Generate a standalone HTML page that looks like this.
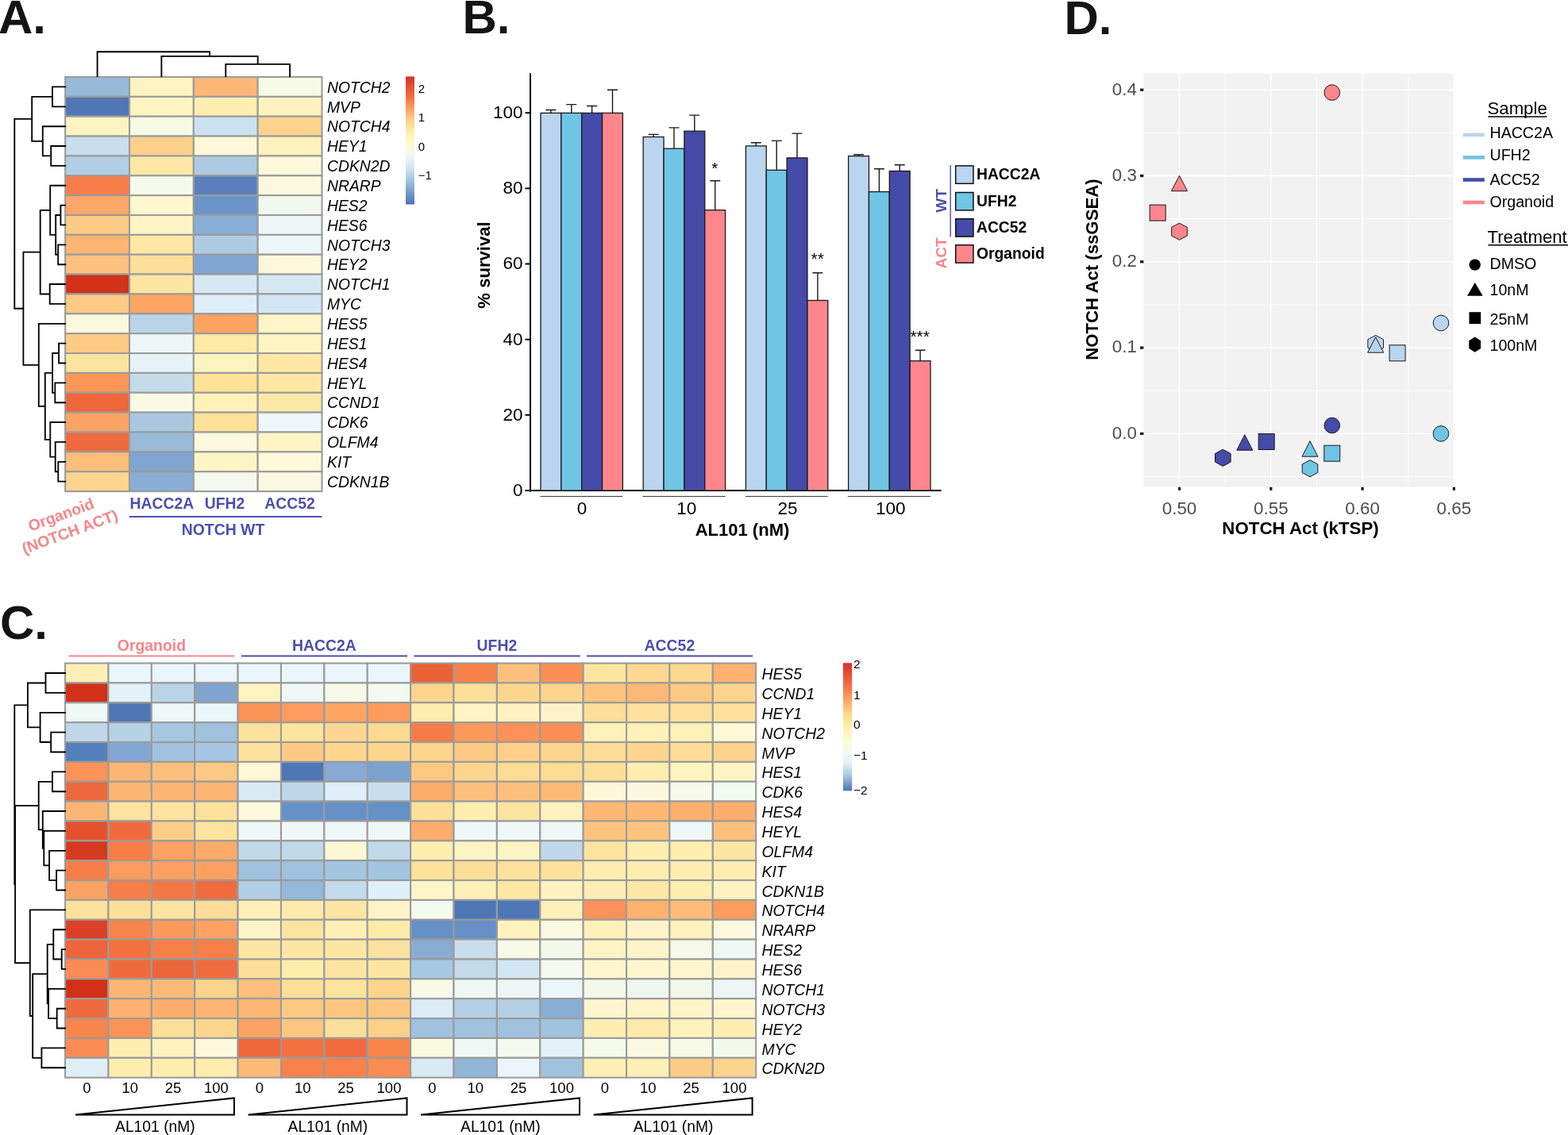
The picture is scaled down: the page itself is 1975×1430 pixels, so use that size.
<!DOCTYPE html>
<html><head><meta charset="utf-8"><title>Figure</title>
<style>
html,body{margin:0;padding:0;background:#fff;overflow:hidden;width:1975px;height:1430px;}
svg{display:block;}
svg text{font-family:'Liberation Sans', Arial, sans-serif;}
</style></head><body>
<svg width="1975" height="1430" viewBox="0 0 1975 1430">
<rect width="1975" height="1430" fill="#fff"/>
<text x="-2" y="42" font-size="60" font-weight="bold" fill="#141414">A.</text>
<text x="582.5" y="42" font-size="60" font-weight="bold" fill="#141414">B.</text>
<text x="0" y="805" font-size="60" font-weight="bold" fill="#141414">C.</text>
<text x="1340.5" y="42.5" font-size="60" font-weight="bold" fill="#141414">D.</text>
<g>
<rect x="82.20" y="97.00" width="80.83" height="24.86" fill="#97BAD9" stroke="#9b9b9b" stroke-width="2.1"/>
<rect x="163.03" y="97.00" width="80.83" height="24.86" fill="#FEF4C2" stroke="#9b9b9b" stroke-width="2.1"/>
<rect x="243.86" y="97.00" width="80.83" height="24.86" fill="#FDB878" stroke="#9b9b9b" stroke-width="2.1"/>
<rect x="324.69" y="97.00" width="80.83" height="24.86" fill="#F7FBE6" stroke="#9b9b9b" stroke-width="2.1"/>
<rect x="82.20" y="121.86" width="80.83" height="24.86" fill="#4F77B6" stroke="#9b9b9b" stroke-width="2.1"/>
<rect x="163.03" y="121.86" width="80.83" height="24.86" fill="#FEF4C2" stroke="#9b9b9b" stroke-width="2.1"/>
<rect x="243.86" y="121.86" width="80.83" height="24.86" fill="#FEEEB0" stroke="#9b9b9b" stroke-width="2.1"/>
<rect x="324.69" y="121.86" width="80.83" height="24.86" fill="#FEF3BE" stroke="#9b9b9b" stroke-width="2.1"/>
<rect x="82.20" y="146.72" width="80.83" height="24.86" fill="#FEF4C2" stroke="#9b9b9b" stroke-width="2.1"/>
<rect x="163.03" y="146.72" width="80.83" height="24.86" fill="#F7FAE4" stroke="#9b9b9b" stroke-width="2.1"/>
<rect x="243.86" y="146.72" width="80.83" height="24.86" fill="#CCE1F0" stroke="#9b9b9b" stroke-width="2.1"/>
<rect x="324.69" y="146.72" width="80.83" height="24.86" fill="#FDD38E" stroke="#9b9b9b" stroke-width="2.1"/>
<rect x="82.20" y="171.58" width="80.83" height="24.86" fill="#C9DFEE" stroke="#9b9b9b" stroke-width="2.1"/>
<rect x="163.03" y="171.58" width="80.83" height="24.86" fill="#FDD08C" stroke="#9b9b9b" stroke-width="2.1"/>
<rect x="243.86" y="171.58" width="80.83" height="24.86" fill="#FEF8D8" stroke="#9b9b9b" stroke-width="2.1"/>
<rect x="324.69" y="171.58" width="80.83" height="24.86" fill="#FEF2BC" stroke="#9b9b9b" stroke-width="2.1"/>
<rect x="82.20" y="196.44" width="80.83" height="24.86" fill="#B0CFE5" stroke="#9b9b9b" stroke-width="2.1"/>
<rect x="163.03" y="196.44" width="80.83" height="24.86" fill="#FEE8A6" stroke="#9b9b9b" stroke-width="2.1"/>
<rect x="243.86" y="196.44" width="80.83" height="24.86" fill="#ADCBE3" stroke="#9b9b9b" stroke-width="2.1"/>
<rect x="324.69" y="196.44" width="80.83" height="24.86" fill="#FEF9DA" stroke="#9b9b9b" stroke-width="2.1"/>
<rect x="82.20" y="221.30" width="80.83" height="24.86" fill="#F77D48" stroke="#9b9b9b" stroke-width="2.1"/>
<rect x="163.03" y="221.30" width="80.83" height="24.86" fill="#F6FAEC" stroke="#9b9b9b" stroke-width="2.1"/>
<rect x="243.86" y="221.30" width="80.83" height="24.86" fill="#5A80BC" stroke="#9b9b9b" stroke-width="2.1"/>
<rect x="324.69" y="221.30" width="80.83" height="24.86" fill="#FAF9E0" stroke="#9b9b9b" stroke-width="2.1"/>
<rect x="82.20" y="246.16" width="80.83" height="24.86" fill="#FDA769" stroke="#9b9b9b" stroke-width="2.1"/>
<rect x="163.03" y="246.16" width="80.83" height="24.86" fill="#FEF7CF" stroke="#9b9b9b" stroke-width="2.1"/>
<rect x="243.86" y="246.16" width="80.83" height="24.86" fill="#6B95C8" stroke="#9b9b9b" stroke-width="2.1"/>
<rect x="324.69" y="246.16" width="80.83" height="24.86" fill="#F1F9EF" stroke="#9b9b9b" stroke-width="2.1"/>
<rect x="82.20" y="271.02" width="80.83" height="24.86" fill="#FDCB86" stroke="#9b9b9b" stroke-width="2.1"/>
<rect x="163.03" y="271.02" width="80.83" height="24.86" fill="#FEF4C4" stroke="#9b9b9b" stroke-width="2.1"/>
<rect x="243.86" y="271.02" width="80.83" height="24.86" fill="#88AFD6" stroke="#9b9b9b" stroke-width="2.1"/>
<rect x="324.69" y="271.02" width="80.83" height="24.86" fill="#EEF7F6" stroke="#9b9b9b" stroke-width="2.1"/>
<rect x="82.20" y="295.88" width="80.83" height="24.86" fill="#FDB574" stroke="#9b9b9b" stroke-width="2.1"/>
<rect x="163.03" y="295.88" width="80.83" height="24.86" fill="#FEE8A4" stroke="#9b9b9b" stroke-width="2.1"/>
<rect x="243.86" y="295.88" width="80.83" height="24.86" fill="#ADCCE3" stroke="#9b9b9b" stroke-width="2.1"/>
<rect x="324.69" y="295.88" width="80.83" height="24.86" fill="#EDF6F8" stroke="#9b9b9b" stroke-width="2.1"/>
<rect x="82.20" y="320.74" width="80.83" height="24.86" fill="#FDC281" stroke="#9b9b9b" stroke-width="2.1"/>
<rect x="163.03" y="320.74" width="80.83" height="24.86" fill="#FCDF98" stroke="#9b9b9b" stroke-width="2.1"/>
<rect x="243.86" y="320.74" width="80.83" height="24.86" fill="#80A5D2" stroke="#9b9b9b" stroke-width="2.1"/>
<rect x="324.69" y="320.74" width="80.83" height="24.86" fill="#FDF8DC" stroke="#9b9b9b" stroke-width="2.1"/>
<rect x="82.20" y="345.60" width="80.83" height="24.86" fill="#D23218" stroke="#9b9b9b" stroke-width="2.1"/>
<rect x="163.03" y="345.60" width="80.83" height="24.86" fill="#FCE6A2" stroke="#9b9b9b" stroke-width="2.1"/>
<rect x="243.86" y="345.60" width="80.83" height="24.86" fill="#D7E8F4" stroke="#9b9b9b" stroke-width="2.1"/>
<rect x="324.69" y="345.60" width="80.83" height="24.86" fill="#D7E8F4" stroke="#9b9b9b" stroke-width="2.1"/>
<rect x="82.20" y="370.46" width="80.83" height="24.86" fill="#FDCB85" stroke="#9b9b9b" stroke-width="2.1"/>
<rect x="163.03" y="370.46" width="80.83" height="24.86" fill="#FDA563" stroke="#9b9b9b" stroke-width="2.1"/>
<rect x="243.86" y="370.46" width="80.83" height="24.86" fill="#DFEFF8" stroke="#9b9b9b" stroke-width="2.1"/>
<rect x="324.69" y="370.46" width="80.83" height="24.86" fill="#D3E6F3" stroke="#9b9b9b" stroke-width="2.1"/>
<rect x="82.20" y="395.32" width="80.83" height="24.86" fill="#FCFADD" stroke="#9b9b9b" stroke-width="2.1"/>
<rect x="163.03" y="395.32" width="80.83" height="24.86" fill="#B9D4E8" stroke="#9b9b9b" stroke-width="2.1"/>
<rect x="243.86" y="395.32" width="80.83" height="24.86" fill="#FDA362" stroke="#9b9b9b" stroke-width="2.1"/>
<rect x="324.69" y="395.32" width="80.83" height="24.86" fill="#FEF6C8" stroke="#9b9b9b" stroke-width="2.1"/>
<rect x="82.20" y="420.18" width="80.83" height="24.86" fill="#FDCB85" stroke="#9b9b9b" stroke-width="2.1"/>
<rect x="163.03" y="420.18" width="80.83" height="24.86" fill="#EDF7F8" stroke="#9b9b9b" stroke-width="2.1"/>
<rect x="243.86" y="420.18" width="80.83" height="24.86" fill="#FEE9A7" stroke="#9b9b9b" stroke-width="2.1"/>
<rect x="324.69" y="420.18" width="80.83" height="24.86" fill="#FEF4C1" stroke="#9b9b9b" stroke-width="2.1"/>
<rect x="82.20" y="445.04" width="80.83" height="24.86" fill="#FDE49E" stroke="#9b9b9b" stroke-width="2.1"/>
<rect x="163.03" y="445.04" width="80.83" height="24.86" fill="#E5F3F9" stroke="#9b9b9b" stroke-width="2.1"/>
<rect x="243.86" y="445.04" width="80.83" height="24.86" fill="#FEF4C0" stroke="#9b9b9b" stroke-width="2.1"/>
<rect x="324.69" y="445.04" width="80.83" height="24.86" fill="#FDE7A2" stroke="#9b9b9b" stroke-width="2.1"/>
<rect x="82.20" y="469.90" width="80.83" height="24.86" fill="#FD9758" stroke="#9b9b9b" stroke-width="2.1"/>
<rect x="163.03" y="469.90" width="80.83" height="24.86" fill="#C4DCEA" stroke="#9b9b9b" stroke-width="2.1"/>
<rect x="243.86" y="469.90" width="80.83" height="24.86" fill="#FDE297" stroke="#9b9b9b" stroke-width="2.1"/>
<rect x="324.69" y="469.90" width="80.83" height="24.86" fill="#FDE7A3" stroke="#9b9b9b" stroke-width="2.1"/>
<rect x="82.20" y="494.76" width="80.83" height="24.86" fill="#EE663A" stroke="#9b9b9b" stroke-width="2.1"/>
<rect x="163.03" y="494.76" width="80.83" height="24.86" fill="#F9FAE6" stroke="#9b9b9b" stroke-width="2.1"/>
<rect x="243.86" y="494.76" width="80.83" height="24.86" fill="#FEF2B6" stroke="#9b9b9b" stroke-width="2.1"/>
<rect x="324.69" y="494.76" width="80.83" height="24.86" fill="#FCE9A7" stroke="#9b9b9b" stroke-width="2.1"/>
<rect x="82.20" y="519.62" width="80.83" height="24.86" fill="#FDA464" stroke="#9b9b9b" stroke-width="2.1"/>
<rect x="163.03" y="519.62" width="80.83" height="24.86" fill="#A9C8E0" stroke="#9b9b9b" stroke-width="2.1"/>
<rect x="243.86" y="519.62" width="80.83" height="24.86" fill="#FDE297" stroke="#9b9b9b" stroke-width="2.1"/>
<rect x="324.69" y="519.62" width="80.83" height="24.86" fill="#EEF7F9" stroke="#9b9b9b" stroke-width="2.1"/>
<rect x="82.20" y="544.48" width="80.83" height="24.86" fill="#F06A3F" stroke="#9b9b9b" stroke-width="2.1"/>
<rect x="163.03" y="544.48" width="80.83" height="24.86" fill="#99BBDA" stroke="#9b9b9b" stroke-width="2.1"/>
<rect x="243.86" y="544.48" width="80.83" height="24.86" fill="#FCF9DF" stroke="#9b9b9b" stroke-width="2.1"/>
<rect x="324.69" y="544.48" width="80.83" height="24.86" fill="#FEF5C6" stroke="#9b9b9b" stroke-width="2.1"/>
<rect x="82.20" y="569.34" width="80.83" height="24.86" fill="#FDBE7A" stroke="#9b9b9b" stroke-width="2.1"/>
<rect x="163.03" y="569.34" width="80.83" height="24.86" fill="#80A5D0" stroke="#9b9b9b" stroke-width="2.1"/>
<rect x="243.86" y="569.34" width="80.83" height="24.86" fill="#FEF5C6" stroke="#9b9b9b" stroke-width="2.1"/>
<rect x="324.69" y="569.34" width="80.83" height="24.86" fill="#FDF9DA" stroke="#9b9b9b" stroke-width="2.1"/>
<rect x="82.20" y="594.20" width="80.83" height="24.86" fill="#FDD58E" stroke="#9b9b9b" stroke-width="2.1"/>
<rect x="163.03" y="594.20" width="80.83" height="24.86" fill="#88AED4" stroke="#9b9b9b" stroke-width="2.1"/>
<rect x="243.86" y="594.20" width="80.83" height="24.86" fill="#F3F9EC" stroke="#9b9b9b" stroke-width="2.1"/>
<rect x="324.69" y="594.20" width="80.83" height="24.86" fill="#FAF8E0" stroke="#9b9b9b" stroke-width="2.1"/>
</g>
<text x="412" y="116.6" font-size="19.35" font-style="italic" fill="#000">NOTCH2</text>
<text x="412" y="141.5" font-size="19.35" font-style="italic" fill="#000">MVP</text>
<text x="412" y="166.3" font-size="19.35" font-style="italic" fill="#000">NOTCH4</text>
<text x="412" y="191.2" font-size="19.35" font-style="italic" fill="#000">HEY1</text>
<text x="412" y="216.1" font-size="19.35" font-style="italic" fill="#000">CDKN2D</text>
<text x="412" y="240.9" font-size="19.35" font-style="italic" fill="#000">NRARP</text>
<text x="412" y="265.8" font-size="19.35" font-style="italic" fill="#000">HES2</text>
<text x="412" y="290.6" font-size="19.35" font-style="italic" fill="#000">HES6</text>
<text x="412" y="315.5" font-size="19.35" font-style="italic" fill="#000">NOTCH3</text>
<text x="412" y="340.4" font-size="19.35" font-style="italic" fill="#000">HEY2</text>
<text x="412" y="365.2" font-size="19.35" font-style="italic" fill="#000">NOTCH1</text>
<text x="412" y="390.1" font-size="19.35" font-style="italic" fill="#000">MYC</text>
<text x="412" y="414.9" font-size="19.35" font-style="italic" fill="#000">HES5</text>
<text x="412" y="439.8" font-size="19.35" font-style="italic" fill="#000">HES1</text>
<text x="412" y="464.7" font-size="19.35" font-style="italic" fill="#000">HES4</text>
<text x="412" y="489.5" font-size="19.35" font-style="italic" fill="#000">HEYL</text>
<text x="412" y="514.4" font-size="19.35" font-style="italic" fill="#000">CCND1</text>
<text x="412" y="539.2" font-size="19.35" font-style="italic" fill="#000">CDK6</text>
<text x="412" y="564.1" font-size="19.35" font-style="italic" fill="#000">OLFM4</text>
<text x="412" y="589.0" font-size="19.35" font-style="italic" fill="#000">KIT</text>
<text x="412" y="613.8" font-size="19.35" font-style="italic" fill="#000">CDKN1B</text>
<path d="M66.0 109.4L82.2 109.4 M66.0 134.3L82.2 134.3 M66.0 109.4L66.0 134.3 M64.2 184.0L82.2 184.0 M64.2 208.9L82.2 208.9 M64.2 184.0L64.2 208.9 M53.8 159.2L82.2 159.2 M53.8 196.4L64.2 196.4 M53.8 159.2L53.8 196.4 M40.2 121.9L66.0 121.9 M40.2 177.8L53.8 177.8 M40.2 121.9L40.2 177.8 M76.4 258.6L82.2 258.6 M76.4 283.4L82.2 283.4 M76.4 258.6L76.4 283.4 M73.2 308.3L82.2 308.3 M73.2 333.2L82.2 333.2 M73.2 308.3L73.2 333.2 M70.2 271.0L76.4 271.0 M70.2 320.7L73.2 320.7 M70.2 271.0L70.2 320.7 M63.2 233.7L82.2 233.7 M63.2 295.9L70.2 295.9 M63.2 233.7L63.2 295.9 M62.7 358.0L82.2 358.0 M62.7 382.9L82.2 382.9 M62.7 358.0L62.7 382.9 M50.7 264.8L63.2 264.8 M50.7 370.5L62.7 370.5 M50.7 264.8L50.7 370.5 M74.1 432.6L82.2 432.6 M74.1 457.5L82.2 457.5 M74.1 432.6L74.1 457.5 M69.3 482.3L82.2 482.3 M69.3 507.2L82.2 507.2 M69.3 482.3L69.3 507.2 M66.1 445.0L74.1 445.0 M66.1 494.8L69.3 494.8 M66.1 445.0L66.1 494.8 M73.3 581.8L82.2 581.8 M73.3 606.6L82.2 606.6 M73.3 581.8L73.3 606.6 M69.7 556.9L82.2 556.9 M69.7 594.2L73.3 594.2 M69.7 556.9L69.7 594.2 M63.3 532.0L82.2 532.0 M63.3 575.6L69.7 575.6 M63.3 532.0L63.3 575.6 M56.8 469.9L66.1 469.9 M56.8 553.8L63.3 553.8 M56.8 469.9L56.8 553.8 M48.8 407.8L82.2 407.8 M48.8 511.9L56.8 511.9 M48.8 407.8L48.8 511.9 M29.4 317.6L50.7 317.6 M29.4 459.8L48.8 459.8 M29.4 317.6L29.4 459.8 M18.3 149.8L40.2 149.8 M18.3 388.7L29.4 388.7 M18.3 149.8L18.3 388.7" stroke="#000" stroke-width="1.85" fill="none" stroke-linecap="square"/>
<path d="M284.3 96.0L284.3 80.8 M365.1 96.0L365.1 80.8 M284.3 80.8L365.1 80.8 M203.4 96.0L203.4 70.9 M324.7 80.8L324.7 70.9 M203.4 70.9L324.7 70.9 M122.6 96.0L122.6 65.2 M264.1 70.9L264.1 65.2 M122.6 65.2L264.1 65.2" stroke="#000" stroke-width="1.85" fill="none" stroke-linecap="square"/>
<defs><linearGradient id="g96" x1="0" y1="0" x2="0" y2="1"><stop offset="0" stop-color="#D73027"/><stop offset="0.15" stop-color="#F06A3D"/><stop offset="0.25" stop-color="#FCA062"/><stop offset="0.35" stop-color="#FDD58A"/><stop offset="0.45" stop-color="#FEF2B2"/><stop offset="0.55" stop-color="#FBFBDC"/><stop offset="0.62" stop-color="#EEF7F4"/><stop offset="0.7" stop-color="#D8EAF4"/><stop offset="0.8" stop-color="#A8C8E2"/><stop offset="1" stop-color="#4A75B5"/></linearGradient></defs>
<rect x="511.0" y="96.4" width="11.0" height="161.1" fill="url(#g96)"/>
<text x="526.7" y="116.7" font-size="15" fill="#000">2</text>
<text x="526.7" y="153.4" font-size="15" fill="#000">1</text>
<text x="526.7" y="190.0" font-size="15" fill="#000">0</text>
<text x="526.7" y="226.1" font-size="15" fill="#000">−1</text>
<text x="203.8" y="640.5" font-size="19.4" font-weight="bold" fill="#4b4fae" text-anchor="middle">HACC2A</text>
<text x="283" y="640.5" font-size="19.4" font-weight="bold" fill="#4b4fae" text-anchor="middle">UFH2</text>
<text x="365" y="640.5" font-size="19.4" font-weight="bold" fill="#4b4fae" text-anchor="middle">ACC52</text>
<line x1="163" y1="651" x2="405.4" y2="651" stroke="#4b4fae" stroke-width="2"/>
<text x="281" y="674" font-size="19.4" font-weight="bold" fill="#4b4fae" text-anchor="middle">NOTCH WT</text>
<g transform="translate(76.8,648.2) rotate(-20.2)"><text x="0" y="7" font-size="19.5" font-weight="bold" fill="#f7858a" text-anchor="middle">Organoid</text><text x="3" y="31" font-size="19.5" font-weight="bold" fill="#f7858a" text-anchor="middle">(NOTCH ACT)</text></g>
<line x1="668" y1="92.2" x2="668" y2="619.5" stroke="#000" stroke-width="2"/>
<line x1="667" y1="618" x2="1185.6" y2="618" stroke="#000" stroke-width="2.2"/>
<line x1="661.5" y1="618.0" x2="668" y2="618.0" stroke="#000" stroke-width="2"/>
<text x="658.6" y="624.9" font-size="22.5" fill="#000" text-anchor="end">0</text>
<line x1="661.5" y1="522.8" x2="668" y2="522.8" stroke="#000" stroke-width="2"/>
<text x="658.6" y="529.7" font-size="22.5" fill="#000" text-anchor="end">20</text>
<line x1="661.5" y1="427.7" x2="668" y2="427.7" stroke="#000" stroke-width="2"/>
<text x="658.6" y="434.6" font-size="22.5" fill="#000" text-anchor="end">40</text>
<line x1="661.5" y1="332.5" x2="668" y2="332.5" stroke="#000" stroke-width="2"/>
<text x="658.6" y="339.4" font-size="22.5" fill="#000" text-anchor="end">60</text>
<line x1="661.5" y1="237.4" x2="668" y2="237.4" stroke="#000" stroke-width="2"/>
<text x="658.6" y="244.3" font-size="22.5" fill="#000" text-anchor="end">80</text>
<line x1="661.5" y1="142.2" x2="668" y2="142.2" stroke="#000" stroke-width="2"/>
<text x="658.6" y="149.1" font-size="22.5" fill="#000" text-anchor="end">100</text>
<rect x="681.00" y="142.4" width="25.85" height="475.6" fill="#bad5ef" stroke="#1a1a1a" stroke-width="1.3"/>
<path d="M693.9 142.4V138.5M687.4 138.5H700.4" stroke="#1a1a1a" stroke-width="1.4" fill="none"/>
<rect x="706.85" y="142.4" width="25.85" height="475.6" fill="#6fc5e3" stroke="#1a1a1a" stroke-width="1.3"/>
<path d="M719.8 142.4V131.6M713.3 131.6H726.3" stroke="#1a1a1a" stroke-width="1.4" fill="none"/>
<rect x="732.70" y="142.4" width="25.85" height="475.6" fill="#444ba8" stroke="#1a1a1a" stroke-width="1.3"/>
<path d="M745.6 142.4V133.5M739.1 133.5H752.1" stroke="#1a1a1a" stroke-width="1.4" fill="none"/>
<rect x="758.55" y="142.4" width="25.85" height="475.6" fill="#fe868c" stroke="#1a1a1a" stroke-width="1.3"/>
<path d="M771.5 142.4V113.2M765.0 113.2H778.0" stroke="#1a1a1a" stroke-width="1.4" fill="none"/>
<line x1="680.3" y1="625.4" x2="784.4" y2="625.4" stroke="#333" stroke-width="1"/>
<rect x="810.20" y="172.5" width="25.85" height="445.5" fill="#bad5ef" stroke="#1a1a1a" stroke-width="1.3"/>
<path d="M823.1 172.5V169.4M816.6 169.4H829.6" stroke="#1a1a1a" stroke-width="1.4" fill="none"/>
<rect x="836.05" y="187.2" width="25.85" height="430.8" fill="#6fc5e3" stroke="#1a1a1a" stroke-width="1.3"/>
<path d="M849.0 187.2V160.9M842.5 160.9H855.5" stroke="#1a1a1a" stroke-width="1.4" fill="none"/>
<rect x="861.90" y="165.2" width="25.85" height="452.8" fill="#444ba8" stroke="#1a1a1a" stroke-width="1.3"/>
<path d="M874.8 165.2V145.1M868.3 145.1H881.3" stroke="#1a1a1a" stroke-width="1.4" fill="none"/>
<rect x="887.75" y="264.7" width="25.85" height="353.3" fill="#fe868c" stroke="#1a1a1a" stroke-width="1.3"/>
<path d="M900.7 264.7V227.7M894.2 227.7H907.2" stroke="#1a1a1a" stroke-width="1.4" fill="none"/>
<line x1="809.5" y1="625.4" x2="913.6" y2="625.4" stroke="#333" stroke-width="1"/>
<rect x="939.40" y="183.9" width="25.85" height="434.1" fill="#bad5ef" stroke="#1a1a1a" stroke-width="1.3"/>
<path d="M952.3 183.9V179.7M945.8 179.7H958.8" stroke="#1a1a1a" stroke-width="1.4" fill="none"/>
<rect x="965.25" y="214.3" width="25.85" height="403.7" fill="#6fc5e3" stroke="#1a1a1a" stroke-width="1.3"/>
<path d="M978.2 214.3V177.4M971.7 177.4H984.7" stroke="#1a1a1a" stroke-width="1.4" fill="none"/>
<rect x="991.10" y="198.9" width="25.85" height="419.1" fill="#444ba8" stroke="#1a1a1a" stroke-width="1.3"/>
<path d="M1004.0 198.9V168.1M997.5 168.1H1010.5" stroke="#1a1a1a" stroke-width="1.4" fill="none"/>
<rect x="1016.95" y="378.5" width="25.85" height="239.5" fill="#fe868c" stroke="#1a1a1a" stroke-width="1.3"/>
<path d="M1029.9 378.5V343.8M1023.4 343.8H1036.4" stroke="#1a1a1a" stroke-width="1.4" fill="none"/>
<line x1="938.7" y1="625.4" x2="1042.8" y2="625.4" stroke="#333" stroke-width="1"/>
<rect x="1068.60" y="196.6" width="25.85" height="421.4" fill="#bad5ef" stroke="#1a1a1a" stroke-width="1.3"/>
<path d="M1081.5 196.6V194.7M1075.0 194.7H1088.0" stroke="#1a1a1a" stroke-width="1.4" fill="none"/>
<rect x="1094.45" y="241.6" width="25.85" height="376.4" fill="#6fc5e3" stroke="#1a1a1a" stroke-width="1.3"/>
<path d="M1107.4 241.6V212.8M1100.9 212.8H1113.9" stroke="#1a1a1a" stroke-width="1.4" fill="none"/>
<rect x="1120.30" y="215.5" width="25.85" height="402.5" fill="#444ba8" stroke="#1a1a1a" stroke-width="1.3"/>
<path d="M1133.2 215.5V207.8M1126.7 207.8H1139.7" stroke="#1a1a1a" stroke-width="1.4" fill="none"/>
<rect x="1146.15" y="454.7" width="25.85" height="163.3" fill="#fe868c" stroke="#1a1a1a" stroke-width="1.3"/>
<path d="M1159.1 454.7V441.2M1152.6 441.2H1165.6" stroke="#1a1a1a" stroke-width="1.4" fill="none"/>
<line x1="1067.9" y1="625.4" x2="1172.0" y2="625.4" stroke="#333" stroke-width="1"/>
<text x="733.1" y="647.6" font-size="22.5" fill="#000" text-anchor="middle">0</text>
<text x="864.7" y="647.6" font-size="22.5" fill="#000" text-anchor="middle">10</text>
<text x="991.9" y="647.6" font-size="22.5" fill="#000" text-anchor="middle">25</text>
<text x="1121.8" y="647.6" font-size="22.5" fill="#000" text-anchor="middle">100</text>
<text x="935" y="674.5" font-size="22" font-weight="bold" fill="#000" text-anchor="middle">AL101 (nM)</text>
<text transform="translate(616.6,334) rotate(-90)" x="0" y="0" font-size="22.1" font-weight="bold" fill="#000" text-anchor="middle">% survival</text>
<text x="900.3" y="218.8" font-size="21" fill="#000" text-anchor="middle">*</text>
<text x="1029.8" y="333.2" font-size="21" fill="#000" text-anchor="middle">**</text>
<text x="1158.7" y="430.8" font-size="21" fill="#000" text-anchor="middle">***</text>
<rect x="1203.7" y="208.9" width="22.3" height="22.4" fill="#bad5ef" stroke="#111" stroke-width="1.5"/>
<text x="1230" y="226.2" font-size="19.3" font-weight="bold" fill="#000">HACC2A</text>
<rect x="1203.7" y="242.5" width="22.3" height="22.4" fill="#6fc5e3" stroke="#111" stroke-width="1.5"/>
<text x="1230" y="259.8" font-size="19.3" font-weight="bold" fill="#000">UFH2</text>
<rect x="1203.7" y="275.7" width="22.3" height="22.4" fill="#444ba8" stroke="#111" stroke-width="1.5"/>
<text x="1230" y="293.0" font-size="19.3" font-weight="bold" fill="#000">ACC52</text>
<rect x="1203.7" y="308.7" width="22.3" height="22.4" fill="#fe868c" stroke="#111" stroke-width="1.5"/>
<text x="1230" y="326.0" font-size="19.3" font-weight="bold" fill="#000">Organoid</text>
<line x1="1197.2" y1="207.9" x2="1197.2" y2="298.6" stroke="#5558b5" stroke-width="1.5"/>
<text transform="translate(1192.4,253) rotate(-90)" x="0" y="0" font-size="19" font-weight="bold" fill="#4b4fae" text-anchor="middle">WT</text>
<text transform="translate(1192.2,319) rotate(-90)" x="0" y="0" font-size="19" font-weight="bold" fill="#f7858a" text-anchor="middle">ACT</text>
<g>
<rect x="82.10" y="835.60" width="54.38" height="24.86" fill="#FEF0B4" stroke="#9b9b9b" stroke-width="2.1"/>
<rect x="136.48" y="835.60" width="54.38" height="24.86" fill="#EBF6FA" stroke="#9b9b9b" stroke-width="2.1"/>
<rect x="190.86" y="835.60" width="54.38" height="24.86" fill="#EBF6FA" stroke="#9b9b9b" stroke-width="2.1"/>
<rect x="245.24" y="835.60" width="54.38" height="24.86" fill="#EBF6FA" stroke="#9b9b9b" stroke-width="2.1"/>
<rect x="299.62" y="835.60" width="54.38" height="24.86" fill="#EBF6FA" stroke="#9b9b9b" stroke-width="2.1"/>
<rect x="354.00" y="835.60" width="54.38" height="24.86" fill="#EBF6FA" stroke="#9b9b9b" stroke-width="2.1"/>
<rect x="408.38" y="835.60" width="54.38" height="24.86" fill="#EBF6FA" stroke="#9b9b9b" stroke-width="2.1"/>
<rect x="462.76" y="835.60" width="54.38" height="24.86" fill="#EBF6FA" stroke="#9b9b9b" stroke-width="2.1"/>
<rect x="517.14" y="835.60" width="54.38" height="24.86" fill="#EA6136" stroke="#9b9b9b" stroke-width="2.1"/>
<rect x="571.52" y="835.60" width="54.38" height="24.86" fill="#F88149" stroke="#9b9b9b" stroke-width="2.1"/>
<rect x="625.90" y="835.60" width="54.38" height="24.86" fill="#FDC07C" stroke="#9b9b9b" stroke-width="2.1"/>
<rect x="680.28" y="835.60" width="54.38" height="24.86" fill="#FB8F55" stroke="#9b9b9b" stroke-width="2.1"/>
<rect x="734.66" y="835.60" width="54.38" height="24.86" fill="#FDE6A0" stroke="#9b9b9b" stroke-width="2.1"/>
<rect x="789.04" y="835.60" width="54.38" height="24.86" fill="#FDD890" stroke="#9b9b9b" stroke-width="2.1"/>
<rect x="843.42" y="835.60" width="54.38" height="24.86" fill="#FDD990" stroke="#9b9b9b" stroke-width="2.1"/>
<rect x="897.80" y="835.60" width="54.38" height="24.86" fill="#FDB26F" stroke="#9b9b9b" stroke-width="2.1"/>
<rect x="82.10" y="860.46" width="54.38" height="24.86" fill="#D23018" stroke="#9b9b9b" stroke-width="2.1"/>
<rect x="136.48" y="860.46" width="54.38" height="24.86" fill="#E3F2F9" stroke="#9b9b9b" stroke-width="2.1"/>
<rect x="190.86" y="860.46" width="54.38" height="24.86" fill="#BAD4E7" stroke="#9b9b9b" stroke-width="2.1"/>
<rect x="245.24" y="860.46" width="54.38" height="24.86" fill="#7EA4CF" stroke="#9b9b9b" stroke-width="2.1"/>
<rect x="299.62" y="860.46" width="54.38" height="24.86" fill="#FEF4C0" stroke="#9b9b9b" stroke-width="2.1"/>
<rect x="354.00" y="860.46" width="54.38" height="24.86" fill="#EFF8F6" stroke="#9b9b9b" stroke-width="2.1"/>
<rect x="408.38" y="860.46" width="54.38" height="24.86" fill="#F7FAE8" stroke="#9b9b9b" stroke-width="2.1"/>
<rect x="462.76" y="860.46" width="54.38" height="24.86" fill="#F1F9F1" stroke="#9b9b9b" stroke-width="2.1"/>
<rect x="517.14" y="860.46" width="54.38" height="24.86" fill="#FDD68E" stroke="#9b9b9b" stroke-width="2.1"/>
<rect x="571.52" y="860.46" width="54.38" height="24.86" fill="#FCE09A" stroke="#9b9b9b" stroke-width="2.1"/>
<rect x="625.90" y="860.46" width="54.38" height="24.86" fill="#FDD68E" stroke="#9b9b9b" stroke-width="2.1"/>
<rect x="680.28" y="860.46" width="54.38" height="24.86" fill="#FDD68E" stroke="#9b9b9b" stroke-width="2.1"/>
<rect x="734.66" y="860.46" width="54.38" height="24.86" fill="#FDC47E" stroke="#9b9b9b" stroke-width="2.1"/>
<rect x="789.04" y="860.46" width="54.38" height="24.86" fill="#FDBA77" stroke="#9b9b9b" stroke-width="2.1"/>
<rect x="843.42" y="860.46" width="54.38" height="24.86" fill="#FDCA84" stroke="#9b9b9b" stroke-width="2.1"/>
<rect x="897.80" y="860.46" width="54.38" height="24.86" fill="#FDD68E" stroke="#9b9b9b" stroke-width="2.1"/>
<rect x="82.10" y="885.32" width="54.38" height="24.86" fill="#EEF8F4" stroke="#9b9b9b" stroke-width="2.1"/>
<rect x="136.48" y="885.32" width="54.38" height="24.86" fill="#4E77B6" stroke="#9b9b9b" stroke-width="2.1"/>
<rect x="190.86" y="885.32" width="54.38" height="24.86" fill="#EFF8F6" stroke="#9b9b9b" stroke-width="2.1"/>
<rect x="245.24" y="885.32" width="54.38" height="24.86" fill="#EBF6F8" stroke="#9b9b9b" stroke-width="2.1"/>
<rect x="299.62" y="885.32" width="54.38" height="24.86" fill="#FB9457" stroke="#9b9b9b" stroke-width="2.1"/>
<rect x="354.00" y="885.32" width="54.38" height="24.86" fill="#FC9B5D" stroke="#9b9b9b" stroke-width="2.1"/>
<rect x="408.38" y="885.32" width="54.38" height="24.86" fill="#FDA663" stroke="#9b9b9b" stroke-width="2.1"/>
<rect x="462.76" y="885.32" width="54.38" height="24.86" fill="#FC9C5E" stroke="#9b9b9b" stroke-width="2.1"/>
<rect x="517.14" y="885.32" width="54.38" height="24.86" fill="#FEEDAE" stroke="#9b9b9b" stroke-width="2.1"/>
<rect x="571.52" y="885.32" width="54.38" height="24.86" fill="#FEF4C4" stroke="#9b9b9b" stroke-width="2.1"/>
<rect x="625.90" y="885.32" width="54.38" height="24.86" fill="#FEF2C0" stroke="#9b9b9b" stroke-width="2.1"/>
<rect x="680.28" y="885.32" width="54.38" height="24.86" fill="#FEF3C8" stroke="#9b9b9b" stroke-width="2.1"/>
<rect x="734.66" y="885.32" width="54.38" height="24.86" fill="#FCDF98" stroke="#9b9b9b" stroke-width="2.1"/>
<rect x="789.04" y="885.32" width="54.38" height="24.86" fill="#FCE29C" stroke="#9b9b9b" stroke-width="2.1"/>
<rect x="843.42" y="885.32" width="54.38" height="24.86" fill="#FCE29C" stroke="#9b9b9b" stroke-width="2.1"/>
<rect x="897.80" y="885.32" width="54.38" height="24.86" fill="#FCE29C" stroke="#9b9b9b" stroke-width="2.1"/>
<rect x="82.10" y="910.18" width="54.38" height="24.86" fill="#C0D7E8" stroke="#9b9b9b" stroke-width="2.1"/>
<rect x="136.48" y="910.18" width="54.38" height="24.86" fill="#B6D2E6" stroke="#9b9b9b" stroke-width="2.1"/>
<rect x="190.86" y="910.18" width="54.38" height="24.86" fill="#A5C7E0" stroke="#9b9b9b" stroke-width="2.1"/>
<rect x="245.24" y="910.18" width="54.38" height="24.86" fill="#9FC2DE" stroke="#9b9b9b" stroke-width="2.1"/>
<rect x="299.62" y="910.18" width="54.38" height="24.86" fill="#FCE29C" stroke="#9b9b9b" stroke-width="2.1"/>
<rect x="354.00" y="910.18" width="54.38" height="24.86" fill="#FCE59C" stroke="#9b9b9b" stroke-width="2.1"/>
<rect x="408.38" y="910.18" width="54.38" height="24.86" fill="#FDD792" stroke="#9b9b9b" stroke-width="2.1"/>
<rect x="462.76" y="910.18" width="54.38" height="24.86" fill="#FDDA92" stroke="#9b9b9b" stroke-width="2.1"/>
<rect x="517.14" y="910.18" width="54.38" height="24.86" fill="#F77B47" stroke="#9b9b9b" stroke-width="2.1"/>
<rect x="571.52" y="910.18" width="54.38" height="24.86" fill="#FC9A5C" stroke="#9b9b9b" stroke-width="2.1"/>
<rect x="625.90" y="910.18" width="54.38" height="24.86" fill="#FC9257" stroke="#9b9b9b" stroke-width="2.1"/>
<rect x="680.28" y="910.18" width="54.38" height="24.86" fill="#FB8F55" stroke="#9b9b9b" stroke-width="2.1"/>
<rect x="734.66" y="910.18" width="54.38" height="24.86" fill="#FEF2BA" stroke="#9b9b9b" stroke-width="2.1"/>
<rect x="789.04" y="910.18" width="54.38" height="24.86" fill="#FEF2B8" stroke="#9b9b9b" stroke-width="2.1"/>
<rect x="843.42" y="910.18" width="54.38" height="24.86" fill="#FEF2B8" stroke="#9b9b9b" stroke-width="2.1"/>
<rect x="897.80" y="910.18" width="54.38" height="24.86" fill="#FDF8D6" stroke="#9b9b9b" stroke-width="2.1"/>
<rect x="82.10" y="935.04" width="54.38" height="24.86" fill="#5380BC" stroke="#9b9b9b" stroke-width="2.1"/>
<rect x="136.48" y="935.04" width="54.38" height="24.86" fill="#82A7D2" stroke="#9b9b9b" stroke-width="2.1"/>
<rect x="190.86" y="935.04" width="54.38" height="24.86" fill="#A0C2DE" stroke="#9b9b9b" stroke-width="2.1"/>
<rect x="245.24" y="935.04" width="54.38" height="24.86" fill="#A5C6E0" stroke="#9b9b9b" stroke-width="2.1"/>
<rect x="299.62" y="935.04" width="54.38" height="24.86" fill="#FCE29C" stroke="#9b9b9b" stroke-width="2.1"/>
<rect x="354.00" y="935.04" width="54.38" height="24.86" fill="#FDCA86" stroke="#9b9b9b" stroke-width="2.1"/>
<rect x="408.38" y="935.04" width="54.38" height="24.86" fill="#FDD78F" stroke="#9b9b9b" stroke-width="2.1"/>
<rect x="462.76" y="935.04" width="54.38" height="24.86" fill="#FDD58D" stroke="#9b9b9b" stroke-width="2.1"/>
<rect x="517.14" y="935.04" width="54.38" height="24.86" fill="#FDD58C" stroke="#9b9b9b" stroke-width="2.1"/>
<rect x="571.52" y="935.04" width="54.38" height="24.86" fill="#FDCA84" stroke="#9b9b9b" stroke-width="2.1"/>
<rect x="625.90" y="935.04" width="54.38" height="24.86" fill="#FDD08A" stroke="#9b9b9b" stroke-width="2.1"/>
<rect x="680.28" y="935.04" width="54.38" height="24.86" fill="#FDD58C" stroke="#9b9b9b" stroke-width="2.1"/>
<rect x="734.66" y="935.04" width="54.38" height="24.86" fill="#FCDC96" stroke="#9b9b9b" stroke-width="2.1"/>
<rect x="789.04" y="935.04" width="54.38" height="24.86" fill="#FDD58E" stroke="#9b9b9b" stroke-width="2.1"/>
<rect x="843.42" y="935.04" width="54.38" height="24.86" fill="#FCDC96" stroke="#9b9b9b" stroke-width="2.1"/>
<rect x="897.80" y="935.04" width="54.38" height="24.86" fill="#FDD38E" stroke="#9b9b9b" stroke-width="2.1"/>
<rect x="82.10" y="959.90" width="54.38" height="24.86" fill="#FC9457" stroke="#9b9b9b" stroke-width="2.1"/>
<rect x="136.48" y="959.90" width="54.38" height="24.86" fill="#FDB574" stroke="#9b9b9b" stroke-width="2.1"/>
<rect x="190.86" y="959.90" width="54.38" height="24.86" fill="#FDC07C" stroke="#9b9b9b" stroke-width="2.1"/>
<rect x="245.24" y="959.90" width="54.38" height="24.86" fill="#FDC882" stroke="#9b9b9b" stroke-width="2.1"/>
<rect x="299.62" y="959.90" width="54.38" height="24.86" fill="#FEF8D6" stroke="#9b9b9b" stroke-width="2.1"/>
<rect x="354.00" y="959.90" width="54.38" height="24.86" fill="#4E77B6" stroke="#9b9b9b" stroke-width="2.1"/>
<rect x="408.38" y="959.90" width="54.38" height="24.86" fill="#86AAD3" stroke="#9b9b9b" stroke-width="2.1"/>
<rect x="462.76" y="959.90" width="54.38" height="24.86" fill="#7AA2CE" stroke="#9b9b9b" stroke-width="2.1"/>
<rect x="517.14" y="959.90" width="54.38" height="24.86" fill="#FDC982" stroke="#9b9b9b" stroke-width="2.1"/>
<rect x="571.52" y="959.90" width="54.38" height="24.86" fill="#FDD68E" stroke="#9b9b9b" stroke-width="2.1"/>
<rect x="625.90" y="959.90" width="54.38" height="24.86" fill="#FDDC94" stroke="#9b9b9b" stroke-width="2.1"/>
<rect x="680.28" y="959.90" width="54.38" height="24.86" fill="#FDDC94" stroke="#9b9b9b" stroke-width="2.1"/>
<rect x="734.66" y="959.90" width="54.38" height="24.86" fill="#FCDF98" stroke="#9b9b9b" stroke-width="2.1"/>
<rect x="789.04" y="959.90" width="54.38" height="24.86" fill="#FEEDAE" stroke="#9b9b9b" stroke-width="2.1"/>
<rect x="843.42" y="959.90" width="54.38" height="24.86" fill="#FEF4BE" stroke="#9b9b9b" stroke-width="2.1"/>
<rect x="897.80" y="959.90" width="54.38" height="24.86" fill="#FEF4C4" stroke="#9b9b9b" stroke-width="2.1"/>
<rect x="82.10" y="984.76" width="54.38" height="24.86" fill="#ED683C" stroke="#9b9b9b" stroke-width="2.1"/>
<rect x="136.48" y="984.76" width="54.38" height="24.86" fill="#FDB574" stroke="#9b9b9b" stroke-width="2.1"/>
<rect x="190.86" y="984.76" width="54.38" height="24.86" fill="#FDB574" stroke="#9b9b9b" stroke-width="2.1"/>
<rect x="245.24" y="984.76" width="54.38" height="24.86" fill="#FDB574" stroke="#9b9b9b" stroke-width="2.1"/>
<rect x="299.62" y="984.76" width="54.38" height="24.86" fill="#DAEAF5" stroke="#9b9b9b" stroke-width="2.1"/>
<rect x="354.00" y="984.76" width="54.38" height="24.86" fill="#BDD6E9" stroke="#9b9b9b" stroke-width="2.1"/>
<rect x="408.38" y="984.76" width="54.38" height="24.86" fill="#DFEEF8" stroke="#9b9b9b" stroke-width="2.1"/>
<rect x="462.76" y="984.76" width="54.38" height="24.86" fill="#C9DEED" stroke="#9b9b9b" stroke-width="2.1"/>
<rect x="517.14" y="984.76" width="54.38" height="24.86" fill="#FDAD6B" stroke="#9b9b9b" stroke-width="2.1"/>
<rect x="571.52" y="984.76" width="54.38" height="24.86" fill="#FDC07C" stroke="#9b9b9b" stroke-width="2.1"/>
<rect x="625.90" y="984.76" width="54.38" height="24.86" fill="#FDC07C" stroke="#9b9b9b" stroke-width="2.1"/>
<rect x="680.28" y="984.76" width="54.38" height="24.86" fill="#FDBA77" stroke="#9b9b9b" stroke-width="2.1"/>
<rect x="734.66" y="984.76" width="54.38" height="24.86" fill="#FDF8D8" stroke="#9b9b9b" stroke-width="2.1"/>
<rect x="789.04" y="984.76" width="54.38" height="24.86" fill="#FAF8DE" stroke="#9b9b9b" stroke-width="2.1"/>
<rect x="843.42" y="984.76" width="54.38" height="24.86" fill="#F7FAE8" stroke="#9b9b9b" stroke-width="2.1"/>
<rect x="897.80" y="984.76" width="54.38" height="24.86" fill="#F3FAEF" stroke="#9b9b9b" stroke-width="2.1"/>
<rect x="82.10" y="1009.62" width="54.38" height="24.86" fill="#FDB574" stroke="#9b9b9b" stroke-width="2.1"/>
<rect x="136.48" y="1009.62" width="54.38" height="24.86" fill="#FDE49E" stroke="#9b9b9b" stroke-width="2.1"/>
<rect x="190.86" y="1009.62" width="54.38" height="24.86" fill="#FDE49E" stroke="#9b9b9b" stroke-width="2.1"/>
<rect x="245.24" y="1009.62" width="54.38" height="24.86" fill="#FCE29A" stroke="#9b9b9b" stroke-width="2.1"/>
<rect x="299.62" y="1009.62" width="54.38" height="24.86" fill="#FCF9DC" stroke="#9b9b9b" stroke-width="2.1"/>
<rect x="354.00" y="1009.62" width="54.38" height="24.86" fill="#6591C6" stroke="#9b9b9b" stroke-width="2.1"/>
<rect x="408.38" y="1009.62" width="54.38" height="24.86" fill="#6591C6" stroke="#9b9b9b" stroke-width="2.1"/>
<rect x="462.76" y="1009.62" width="54.38" height="24.86" fill="#6591C6" stroke="#9b9b9b" stroke-width="2.1"/>
<rect x="517.14" y="1009.62" width="54.38" height="24.86" fill="#FCE09A" stroke="#9b9b9b" stroke-width="2.1"/>
<rect x="571.52" y="1009.62" width="54.38" height="24.86" fill="#FEEEB0" stroke="#9b9b9b" stroke-width="2.1"/>
<rect x="625.90" y="1009.62" width="54.38" height="24.86" fill="#FDE4A0" stroke="#9b9b9b" stroke-width="2.1"/>
<rect x="680.28" y="1009.62" width="54.38" height="24.86" fill="#FEF2BC" stroke="#9b9b9b" stroke-width="2.1"/>
<rect x="734.66" y="1009.62" width="54.38" height="24.86" fill="#FDB874" stroke="#9b9b9b" stroke-width="2.1"/>
<rect x="789.04" y="1009.62" width="54.38" height="24.86" fill="#FDB874" stroke="#9b9b9b" stroke-width="2.1"/>
<rect x="843.42" y="1009.62" width="54.38" height="24.86" fill="#FDB06E" stroke="#9b9b9b" stroke-width="2.1"/>
<rect x="897.80" y="1009.62" width="54.38" height="24.86" fill="#FDAE6C" stroke="#9b9b9b" stroke-width="2.1"/>
<rect x="82.10" y="1034.48" width="54.38" height="24.86" fill="#E4512D" stroke="#9b9b9b" stroke-width="2.1"/>
<rect x="136.48" y="1034.48" width="54.38" height="24.86" fill="#F06A3D" stroke="#9b9b9b" stroke-width="2.1"/>
<rect x="190.86" y="1034.48" width="54.38" height="24.86" fill="#FDCE88" stroke="#9b9b9b" stroke-width="2.1"/>
<rect x="245.24" y="1034.48" width="54.38" height="24.86" fill="#FCE49E" stroke="#9b9b9b" stroke-width="2.1"/>
<rect x="299.62" y="1034.48" width="54.38" height="24.86" fill="#EFF8F6" stroke="#9b9b9b" stroke-width="2.1"/>
<rect x="354.00" y="1034.48" width="54.38" height="24.86" fill="#EFF8F6" stroke="#9b9b9b" stroke-width="2.1"/>
<rect x="408.38" y="1034.48" width="54.38" height="24.86" fill="#EFF8F6" stroke="#9b9b9b" stroke-width="2.1"/>
<rect x="462.76" y="1034.48" width="54.38" height="24.86" fill="#EFF8F6" stroke="#9b9b9b" stroke-width="2.1"/>
<rect x="517.14" y="1034.48" width="54.38" height="24.86" fill="#FDAD6B" stroke="#9b9b9b" stroke-width="2.1"/>
<rect x="571.52" y="1034.48" width="54.38" height="24.86" fill="#EFF8F6" stroke="#9b9b9b" stroke-width="2.1"/>
<rect x="625.90" y="1034.48" width="54.38" height="24.86" fill="#EFF8F6" stroke="#9b9b9b" stroke-width="2.1"/>
<rect x="680.28" y="1034.48" width="54.38" height="24.86" fill="#EFF8F6" stroke="#9b9b9b" stroke-width="2.1"/>
<rect x="734.66" y="1034.48" width="54.38" height="24.86" fill="#FDC47E" stroke="#9b9b9b" stroke-width="2.1"/>
<rect x="789.04" y="1034.48" width="54.38" height="24.86" fill="#FDC47E" stroke="#9b9b9b" stroke-width="2.1"/>
<rect x="843.42" y="1034.48" width="54.38" height="24.86" fill="#EFF8F6" stroke="#9b9b9b" stroke-width="2.1"/>
<rect x="897.80" y="1034.48" width="54.38" height="24.86" fill="#FDC07C" stroke="#9b9b9b" stroke-width="2.1"/>
<rect x="82.10" y="1059.34" width="54.38" height="24.86" fill="#D5391F" stroke="#9b9b9b" stroke-width="2.1"/>
<rect x="136.48" y="1059.34" width="54.38" height="24.86" fill="#F77C46" stroke="#9b9b9b" stroke-width="2.1"/>
<rect x="190.86" y="1059.34" width="54.38" height="24.86" fill="#FCA262" stroke="#9b9b9b" stroke-width="2.1"/>
<rect x="245.24" y="1059.34" width="54.38" height="24.86" fill="#FCAA69" stroke="#9b9b9b" stroke-width="2.1"/>
<rect x="299.62" y="1059.34" width="54.38" height="24.86" fill="#C2D9E9" stroke="#9b9b9b" stroke-width="2.1"/>
<rect x="354.00" y="1059.34" width="54.38" height="24.86" fill="#C2D9E9" stroke="#9b9b9b" stroke-width="2.1"/>
<rect x="408.38" y="1059.34" width="54.38" height="24.86" fill="#FCF7D5" stroke="#9b9b9b" stroke-width="2.1"/>
<rect x="462.76" y="1059.34" width="54.38" height="24.86" fill="#C2D9E9" stroke="#9b9b9b" stroke-width="2.1"/>
<rect x="517.14" y="1059.34" width="54.38" height="24.86" fill="#FEEEB0" stroke="#9b9b9b" stroke-width="2.1"/>
<rect x="571.52" y="1059.34" width="54.38" height="24.86" fill="#FEF4C4" stroke="#9b9b9b" stroke-width="2.1"/>
<rect x="625.90" y="1059.34" width="54.38" height="24.86" fill="#FEF4C4" stroke="#9b9b9b" stroke-width="2.1"/>
<rect x="680.28" y="1059.34" width="54.38" height="24.86" fill="#C0D8E9" stroke="#9b9b9b" stroke-width="2.1"/>
<rect x="734.66" y="1059.34" width="54.38" height="24.86" fill="#FCE49E" stroke="#9b9b9b" stroke-width="2.1"/>
<rect x="789.04" y="1059.34" width="54.38" height="24.86" fill="#FEEEB0" stroke="#9b9b9b" stroke-width="2.1"/>
<rect x="843.42" y="1059.34" width="54.38" height="24.86" fill="#FEEEB0" stroke="#9b9b9b" stroke-width="2.1"/>
<rect x="897.80" y="1059.34" width="54.38" height="24.86" fill="#FCE6A2" stroke="#9b9b9b" stroke-width="2.1"/>
<rect x="82.10" y="1084.20" width="54.38" height="24.86" fill="#F77D48" stroke="#9b9b9b" stroke-width="2.1"/>
<rect x="136.48" y="1084.20" width="54.38" height="24.86" fill="#FC9B5E" stroke="#9b9b9b" stroke-width="2.1"/>
<rect x="190.86" y="1084.20" width="54.38" height="24.86" fill="#FCA061" stroke="#9b9b9b" stroke-width="2.1"/>
<rect x="245.24" y="1084.20" width="54.38" height="24.86" fill="#FCA061" stroke="#9b9b9b" stroke-width="2.1"/>
<rect x="299.62" y="1084.20" width="54.38" height="24.86" fill="#A0C2DE" stroke="#9b9b9b" stroke-width="2.1"/>
<rect x="354.00" y="1084.20" width="54.38" height="24.86" fill="#A0C2DE" stroke="#9b9b9b" stroke-width="2.1"/>
<rect x="408.38" y="1084.20" width="54.38" height="24.86" fill="#A2C5E0" stroke="#9b9b9b" stroke-width="2.1"/>
<rect x="462.76" y="1084.20" width="54.38" height="24.86" fill="#A2C5E0" stroke="#9b9b9b" stroke-width="2.1"/>
<rect x="517.14" y="1084.20" width="54.38" height="24.86" fill="#FDE29A" stroke="#9b9b9b" stroke-width="2.1"/>
<rect x="571.52" y="1084.20" width="54.38" height="24.86" fill="#FCDF96" stroke="#9b9b9b" stroke-width="2.1"/>
<rect x="625.90" y="1084.20" width="54.38" height="24.86" fill="#FCE29C" stroke="#9b9b9b" stroke-width="2.1"/>
<rect x="680.28" y="1084.20" width="54.38" height="24.86" fill="#FCE29C" stroke="#9b9b9b" stroke-width="2.1"/>
<rect x="734.66" y="1084.20" width="54.38" height="24.86" fill="#FEEEB0" stroke="#9b9b9b" stroke-width="2.1"/>
<rect x="789.04" y="1084.20" width="54.38" height="24.86" fill="#FEEEB0" stroke="#9b9b9b" stroke-width="2.1"/>
<rect x="843.42" y="1084.20" width="54.38" height="24.86" fill="#FEEEB0" stroke="#9b9b9b" stroke-width="2.1"/>
<rect x="897.80" y="1084.20" width="54.38" height="24.86" fill="#FEEEB0" stroke="#9b9b9b" stroke-width="2.1"/>
<rect x="82.10" y="1109.06" width="54.38" height="24.86" fill="#FCA262" stroke="#9b9b9b" stroke-width="2.1"/>
<rect x="136.48" y="1109.06" width="54.38" height="24.86" fill="#F77D48" stroke="#9b9b9b" stroke-width="2.1"/>
<rect x="190.86" y="1109.06" width="54.38" height="24.86" fill="#F47844" stroke="#9b9b9b" stroke-width="2.1"/>
<rect x="245.24" y="1109.06" width="54.38" height="24.86" fill="#F06C3F" stroke="#9b9b9b" stroke-width="2.1"/>
<rect x="299.62" y="1109.06" width="54.38" height="24.86" fill="#B0CFE5" stroke="#9b9b9b" stroke-width="2.1"/>
<rect x="354.00" y="1109.06" width="54.38" height="24.86" fill="#93B8DA" stroke="#9b9b9b" stroke-width="2.1"/>
<rect x="408.38" y="1109.06" width="54.38" height="24.86" fill="#C3DAEA" stroke="#9b9b9b" stroke-width="2.1"/>
<rect x="462.76" y="1109.06" width="54.38" height="24.86" fill="#E0F0F8" stroke="#9b9b9b" stroke-width="2.1"/>
<rect x="517.14" y="1109.06" width="54.38" height="24.86" fill="#FEF5C8" stroke="#9b9b9b" stroke-width="2.1"/>
<rect x="571.52" y="1109.06" width="54.38" height="24.86" fill="#FEF0B8" stroke="#9b9b9b" stroke-width="2.1"/>
<rect x="625.90" y="1109.06" width="54.38" height="24.86" fill="#FCE8A2" stroke="#9b9b9b" stroke-width="2.1"/>
<rect x="680.28" y="1109.06" width="54.38" height="24.86" fill="#FEF3C0" stroke="#9b9b9b" stroke-width="2.1"/>
<rect x="734.66" y="1109.06" width="54.38" height="24.86" fill="#FEEEB4" stroke="#9b9b9b" stroke-width="2.1"/>
<rect x="789.04" y="1109.06" width="54.38" height="24.86" fill="#FCE8A4" stroke="#9b9b9b" stroke-width="2.1"/>
<rect x="843.42" y="1109.06" width="54.38" height="24.86" fill="#FEEEB0" stroke="#9b9b9b" stroke-width="2.1"/>
<rect x="897.80" y="1109.06" width="54.38" height="24.86" fill="#FEF3C0" stroke="#9b9b9b" stroke-width="2.1"/>
<rect x="82.10" y="1133.92" width="54.38" height="24.86" fill="#FCE29C" stroke="#9b9b9b" stroke-width="2.1"/>
<rect x="136.48" y="1133.92" width="54.38" height="24.86" fill="#FCE09A" stroke="#9b9b9b" stroke-width="2.1"/>
<rect x="190.86" y="1133.92" width="54.38" height="24.86" fill="#FCE4A0" stroke="#9b9b9b" stroke-width="2.1"/>
<rect x="245.24" y="1133.92" width="54.38" height="24.86" fill="#FCDC96" stroke="#9b9b9b" stroke-width="2.1"/>
<rect x="299.62" y="1133.92" width="54.38" height="24.86" fill="#FEF0B8" stroke="#9b9b9b" stroke-width="2.1"/>
<rect x="354.00" y="1133.92" width="54.38" height="24.86" fill="#FEEAAA" stroke="#9b9b9b" stroke-width="2.1"/>
<rect x="408.38" y="1133.92" width="54.38" height="24.86" fill="#FDE6A4" stroke="#9b9b9b" stroke-width="2.1"/>
<rect x="462.76" y="1133.92" width="54.38" height="24.86" fill="#FEF3C6" stroke="#9b9b9b" stroke-width="2.1"/>
<rect x="517.14" y="1133.92" width="54.38" height="24.86" fill="#F3FAEE" stroke="#9b9b9b" stroke-width="2.1"/>
<rect x="571.52" y="1133.92" width="54.38" height="24.86" fill="#4E77B6" stroke="#9b9b9b" stroke-width="2.1"/>
<rect x="625.90" y="1133.92" width="54.38" height="24.86" fill="#4E77B6" stroke="#9b9b9b" stroke-width="2.1"/>
<rect x="680.28" y="1133.92" width="54.38" height="24.86" fill="#FEF0B6" stroke="#9b9b9b" stroke-width="2.1"/>
<rect x="734.66" y="1133.92" width="54.38" height="24.86" fill="#FB9156" stroke="#9b9b9b" stroke-width="2.1"/>
<rect x="789.04" y="1133.92" width="54.38" height="24.86" fill="#FDB26F" stroke="#9b9b9b" stroke-width="2.1"/>
<rect x="843.42" y="1133.92" width="54.38" height="24.86" fill="#FDBC77" stroke="#9b9b9b" stroke-width="2.1"/>
<rect x="897.80" y="1133.92" width="54.38" height="24.86" fill="#FC9C5C" stroke="#9b9b9b" stroke-width="2.1"/>
<rect x="82.10" y="1158.78" width="54.38" height="24.86" fill="#DC4128" stroke="#9b9b9b" stroke-width="2.1"/>
<rect x="136.48" y="1158.78" width="54.38" height="24.86" fill="#F8854B" stroke="#9b9b9b" stroke-width="2.1"/>
<rect x="190.86" y="1158.78" width="54.38" height="24.86" fill="#FC9A5C" stroke="#9b9b9b" stroke-width="2.1"/>
<rect x="245.24" y="1158.78" width="54.38" height="24.86" fill="#FCA262" stroke="#9b9b9b" stroke-width="2.1"/>
<rect x="299.62" y="1158.78" width="54.38" height="24.86" fill="#FEF3C4" stroke="#9b9b9b" stroke-width="2.1"/>
<rect x="354.00" y="1158.78" width="54.38" height="24.86" fill="#FCE49E" stroke="#9b9b9b" stroke-width="2.1"/>
<rect x="408.38" y="1158.78" width="54.38" height="24.86" fill="#FEF0B4" stroke="#9b9b9b" stroke-width="2.1"/>
<rect x="462.76" y="1158.78" width="54.38" height="24.86" fill="#FDEBA8" stroke="#9b9b9b" stroke-width="2.1"/>
<rect x="517.14" y="1158.78" width="54.38" height="24.86" fill="#6690C5" stroke="#9b9b9b" stroke-width="2.1"/>
<rect x="571.52" y="1158.78" width="54.38" height="24.86" fill="#6690C5" stroke="#9b9b9b" stroke-width="2.1"/>
<rect x="625.90" y="1158.78" width="54.38" height="24.86" fill="#FEF3BC" stroke="#9b9b9b" stroke-width="2.1"/>
<rect x="680.28" y="1158.78" width="54.38" height="24.86" fill="#F9F9DE" stroke="#9b9b9b" stroke-width="2.1"/>
<rect x="734.66" y="1158.78" width="54.38" height="24.86" fill="#FEF0B8" stroke="#9b9b9b" stroke-width="2.1"/>
<rect x="789.04" y="1158.78" width="54.38" height="24.86" fill="#FEF4C8" stroke="#9b9b9b" stroke-width="2.1"/>
<rect x="843.42" y="1158.78" width="54.38" height="24.86" fill="#FEF2BC" stroke="#9b9b9b" stroke-width="2.1"/>
<rect x="897.80" y="1158.78" width="54.38" height="24.86" fill="#FBF8DE" stroke="#9b9b9b" stroke-width="2.1"/>
<rect x="82.10" y="1183.64" width="54.38" height="24.86" fill="#EC653A" stroke="#9b9b9b" stroke-width="2.1"/>
<rect x="136.48" y="1183.64" width="54.38" height="24.86" fill="#F2713F" stroke="#9b9b9b" stroke-width="2.1"/>
<rect x="190.86" y="1183.64" width="54.38" height="24.86" fill="#F77F48" stroke="#9b9b9b" stroke-width="2.1"/>
<rect x="245.24" y="1183.64" width="54.38" height="24.86" fill="#F77F48" stroke="#9b9b9b" stroke-width="2.1"/>
<rect x="299.62" y="1183.64" width="54.38" height="24.86" fill="#FCE6A2" stroke="#9b9b9b" stroke-width="2.1"/>
<rect x="354.00" y="1183.64" width="54.38" height="24.86" fill="#FCE6A2" stroke="#9b9b9b" stroke-width="2.1"/>
<rect x="408.38" y="1183.64" width="54.38" height="24.86" fill="#FCE6A2" stroke="#9b9b9b" stroke-width="2.1"/>
<rect x="462.76" y="1183.64" width="54.38" height="24.86" fill="#FCE2A0" stroke="#9b9b9b" stroke-width="2.1"/>
<rect x="517.14" y="1183.64" width="54.38" height="24.86" fill="#88ACD3" stroke="#9b9b9b" stroke-width="2.1"/>
<rect x="571.52" y="1183.64" width="54.38" height="24.86" fill="#C8DEED" stroke="#9b9b9b" stroke-width="2.1"/>
<rect x="625.90" y="1183.64" width="54.38" height="24.86" fill="#F7FAE6" stroke="#9b9b9b" stroke-width="2.1"/>
<rect x="680.28" y="1183.64" width="54.38" height="24.86" fill="#F3F9EA" stroke="#9b9b9b" stroke-width="2.1"/>
<rect x="734.66" y="1183.64" width="54.38" height="24.86" fill="#FEF3C4" stroke="#9b9b9b" stroke-width="2.1"/>
<rect x="789.04" y="1183.64" width="54.38" height="24.86" fill="#FEF4CA" stroke="#9b9b9b" stroke-width="2.1"/>
<rect x="843.42" y="1183.64" width="54.38" height="24.86" fill="#F7FAE6" stroke="#9b9b9b" stroke-width="2.1"/>
<rect x="897.80" y="1183.64" width="54.38" height="24.86" fill="#EEF8F4" stroke="#9b9b9b" stroke-width="2.1"/>
<rect x="82.10" y="1208.50" width="54.38" height="24.86" fill="#FA8B52" stroke="#9b9b9b" stroke-width="2.1"/>
<rect x="136.48" y="1208.50" width="54.38" height="24.86" fill="#EF6B3D" stroke="#9b9b9b" stroke-width="2.1"/>
<rect x="190.86" y="1208.50" width="54.38" height="24.86" fill="#EC6539" stroke="#9b9b9b" stroke-width="2.1"/>
<rect x="245.24" y="1208.50" width="54.38" height="24.86" fill="#F06C3F" stroke="#9b9b9b" stroke-width="2.1"/>
<rect x="299.62" y="1208.50" width="54.38" height="24.86" fill="#FCE09A" stroke="#9b9b9b" stroke-width="2.1"/>
<rect x="354.00" y="1208.50" width="54.38" height="24.86" fill="#FEEEAC" stroke="#9b9b9b" stroke-width="2.1"/>
<rect x="408.38" y="1208.50" width="54.38" height="24.86" fill="#FCE6A2" stroke="#9b9b9b" stroke-width="2.1"/>
<rect x="462.76" y="1208.50" width="54.38" height="24.86" fill="#FCE6A2" stroke="#9b9b9b" stroke-width="2.1"/>
<rect x="517.14" y="1208.50" width="54.38" height="24.86" fill="#A8C8E2" stroke="#9b9b9b" stroke-width="2.1"/>
<rect x="571.52" y="1208.50" width="54.38" height="24.86" fill="#C3DAEA" stroke="#9b9b9b" stroke-width="2.1"/>
<rect x="625.90" y="1208.50" width="54.38" height="24.86" fill="#D3E6F3" stroke="#9b9b9b" stroke-width="2.1"/>
<rect x="680.28" y="1208.50" width="54.38" height="24.86" fill="#F3F9EE" stroke="#9b9b9b" stroke-width="2.1"/>
<rect x="734.66" y="1208.50" width="54.38" height="24.86" fill="#FEF6CF" stroke="#9b9b9b" stroke-width="2.1"/>
<rect x="789.04" y="1208.50" width="54.38" height="24.86" fill="#FEF6CF" stroke="#9b9b9b" stroke-width="2.1"/>
<rect x="843.42" y="1208.50" width="54.38" height="24.86" fill="#FEF6CF" stroke="#9b9b9b" stroke-width="2.1"/>
<rect x="897.80" y="1208.50" width="54.38" height="24.86" fill="#FEF3C8" stroke="#9b9b9b" stroke-width="2.1"/>
<rect x="82.10" y="1233.36" width="54.38" height="24.86" fill="#D23015" stroke="#9b9b9b" stroke-width="2.1"/>
<rect x="136.48" y="1233.36" width="54.38" height="24.86" fill="#FDB574" stroke="#9b9b9b" stroke-width="2.1"/>
<rect x="190.86" y="1233.36" width="54.38" height="24.86" fill="#FDBA77" stroke="#9b9b9b" stroke-width="2.1"/>
<rect x="245.24" y="1233.36" width="54.38" height="24.86" fill="#FDD48C" stroke="#9b9b9b" stroke-width="2.1"/>
<rect x="299.62" y="1233.36" width="54.38" height="24.86" fill="#FDC07C" stroke="#9b9b9b" stroke-width="2.1"/>
<rect x="354.00" y="1233.36" width="54.38" height="24.86" fill="#FCDF98" stroke="#9b9b9b" stroke-width="2.1"/>
<rect x="408.38" y="1233.36" width="54.38" height="24.86" fill="#FCE49E" stroke="#9b9b9b" stroke-width="2.1"/>
<rect x="462.76" y="1233.36" width="54.38" height="24.86" fill="#FDD48C" stroke="#9b9b9b" stroke-width="2.1"/>
<rect x="517.14" y="1233.36" width="54.38" height="24.86" fill="#F7FAE6" stroke="#9b9b9b" stroke-width="2.1"/>
<rect x="571.52" y="1233.36" width="54.38" height="24.86" fill="#EFF8F3" stroke="#9b9b9b" stroke-width="2.1"/>
<rect x="625.90" y="1233.36" width="54.38" height="24.86" fill="#EDF7F6" stroke="#9b9b9b" stroke-width="2.1"/>
<rect x="680.28" y="1233.36" width="54.38" height="24.86" fill="#EBF6F8" stroke="#9b9b9b" stroke-width="2.1"/>
<rect x="734.66" y="1233.36" width="54.38" height="24.86" fill="#F3F9EA" stroke="#9b9b9b" stroke-width="2.1"/>
<rect x="789.04" y="1233.36" width="54.38" height="24.86" fill="#EFF8F0" stroke="#9b9b9b" stroke-width="2.1"/>
<rect x="843.42" y="1233.36" width="54.38" height="24.86" fill="#F3F9EA" stroke="#9b9b9b" stroke-width="2.1"/>
<rect x="897.80" y="1233.36" width="54.38" height="24.86" fill="#EDF6F6" stroke="#9b9b9b" stroke-width="2.1"/>
<rect x="82.10" y="1258.22" width="54.38" height="24.86" fill="#EF6B3D" stroke="#9b9b9b" stroke-width="2.1"/>
<rect x="136.48" y="1258.22" width="54.38" height="24.86" fill="#FDB272" stroke="#9b9b9b" stroke-width="2.1"/>
<rect x="190.86" y="1258.22" width="54.38" height="24.86" fill="#FDAE6C" stroke="#9b9b9b" stroke-width="2.1"/>
<rect x="245.24" y="1258.22" width="54.38" height="24.86" fill="#FDB574" stroke="#9b9b9b" stroke-width="2.1"/>
<rect x="299.62" y="1258.22" width="54.38" height="24.86" fill="#FDB874" stroke="#9b9b9b" stroke-width="2.1"/>
<rect x="354.00" y="1258.22" width="54.38" height="24.86" fill="#FDCA84" stroke="#9b9b9b" stroke-width="2.1"/>
<rect x="408.38" y="1258.22" width="54.38" height="24.86" fill="#FDC680" stroke="#9b9b9b" stroke-width="2.1"/>
<rect x="462.76" y="1258.22" width="54.38" height="24.86" fill="#FDC680" stroke="#9b9b9b" stroke-width="2.1"/>
<rect x="517.14" y="1258.22" width="54.38" height="24.86" fill="#DCECF7" stroke="#9b9b9b" stroke-width="2.1"/>
<rect x="571.52" y="1258.22" width="54.38" height="24.86" fill="#B3D0E5" stroke="#9b9b9b" stroke-width="2.1"/>
<rect x="625.90" y="1258.22" width="54.38" height="24.86" fill="#B3D0E5" stroke="#9b9b9b" stroke-width="2.1"/>
<rect x="680.28" y="1258.22" width="54.38" height="24.86" fill="#8AAED4" stroke="#9b9b9b" stroke-width="2.1"/>
<rect x="734.66" y="1258.22" width="54.38" height="24.86" fill="#FEF6CF" stroke="#9b9b9b" stroke-width="2.1"/>
<rect x="789.04" y="1258.22" width="54.38" height="24.86" fill="#FEF4C6" stroke="#9b9b9b" stroke-width="2.1"/>
<rect x="843.42" y="1258.22" width="54.38" height="24.86" fill="#FEF4C8" stroke="#9b9b9b" stroke-width="2.1"/>
<rect x="897.80" y="1258.22" width="54.38" height="24.86" fill="#FDF5CE" stroke="#9b9b9b" stroke-width="2.1"/>
<rect x="82.10" y="1283.08" width="54.38" height="24.86" fill="#F8854B" stroke="#9b9b9b" stroke-width="2.1"/>
<rect x="136.48" y="1283.08" width="54.38" height="24.86" fill="#FB9256" stroke="#9b9b9b" stroke-width="2.1"/>
<rect x="190.86" y="1283.08" width="54.38" height="24.86" fill="#FCDF98" stroke="#9b9b9b" stroke-width="2.1"/>
<rect x="245.24" y="1283.08" width="54.38" height="24.86" fill="#FDD68E" stroke="#9b9b9b" stroke-width="2.1"/>
<rect x="299.62" y="1283.08" width="54.38" height="24.86" fill="#FCA262" stroke="#9b9b9b" stroke-width="2.1"/>
<rect x="354.00" y="1283.08" width="54.38" height="24.86" fill="#FDC680" stroke="#9b9b9b" stroke-width="2.1"/>
<rect x="408.38" y="1283.08" width="54.38" height="24.86" fill="#FCDF98" stroke="#9b9b9b" stroke-width="2.1"/>
<rect x="462.76" y="1283.08" width="54.38" height="24.86" fill="#FDD08A" stroke="#9b9b9b" stroke-width="2.1"/>
<rect x="517.14" y="1283.08" width="54.38" height="24.86" fill="#A0C2DE" stroke="#9b9b9b" stroke-width="2.1"/>
<rect x="571.52" y="1283.08" width="54.38" height="24.86" fill="#A0C2DE" stroke="#9b9b9b" stroke-width="2.1"/>
<rect x="625.90" y="1283.08" width="54.38" height="24.86" fill="#A0C2DE" stroke="#9b9b9b" stroke-width="2.1"/>
<rect x="680.28" y="1283.08" width="54.38" height="24.86" fill="#A0C2DE" stroke="#9b9b9b" stroke-width="2.1"/>
<rect x="734.66" y="1283.08" width="54.38" height="24.86" fill="#FEEEB2" stroke="#9b9b9b" stroke-width="2.1"/>
<rect x="789.04" y="1283.08" width="54.38" height="24.86" fill="#FEEAAA" stroke="#9b9b9b" stroke-width="2.1"/>
<rect x="843.42" y="1283.08" width="54.38" height="24.86" fill="#FEF2BC" stroke="#9b9b9b" stroke-width="2.1"/>
<rect x="897.80" y="1283.08" width="54.38" height="24.86" fill="#FEEEB2" stroke="#9b9b9b" stroke-width="2.1"/>
<rect x="82.10" y="1307.94" width="54.38" height="24.86" fill="#FA8B52" stroke="#9b9b9b" stroke-width="2.1"/>
<rect x="136.48" y="1307.94" width="54.38" height="24.86" fill="#FEEEAE" stroke="#9b9b9b" stroke-width="2.1"/>
<rect x="190.86" y="1307.94" width="54.38" height="24.86" fill="#FEF2BE" stroke="#9b9b9b" stroke-width="2.1"/>
<rect x="245.24" y="1307.94" width="54.38" height="24.86" fill="#FCF8DC" stroke="#9b9b9b" stroke-width="2.1"/>
<rect x="299.62" y="1307.94" width="54.38" height="24.86" fill="#EE673A" stroke="#9b9b9b" stroke-width="2.1"/>
<rect x="354.00" y="1307.94" width="54.38" height="24.86" fill="#F2713F" stroke="#9b9b9b" stroke-width="2.1"/>
<rect x="408.38" y="1307.94" width="54.38" height="24.86" fill="#F06C3F" stroke="#9b9b9b" stroke-width="2.1"/>
<rect x="462.76" y="1307.94" width="54.38" height="24.86" fill="#F8854B" stroke="#9b9b9b" stroke-width="2.1"/>
<rect x="517.14" y="1307.94" width="54.38" height="24.86" fill="#FAFAE0" stroke="#9b9b9b" stroke-width="2.1"/>
<rect x="571.52" y="1307.94" width="54.38" height="24.86" fill="#EFF8F4" stroke="#9b9b9b" stroke-width="2.1"/>
<rect x="625.90" y="1307.94" width="54.38" height="24.86" fill="#F3F9EC" stroke="#9b9b9b" stroke-width="2.1"/>
<rect x="680.28" y="1307.94" width="54.38" height="24.86" fill="#E3F1F8" stroke="#9b9b9b" stroke-width="2.1"/>
<rect x="734.66" y="1307.94" width="54.38" height="24.86" fill="#F5FAEA" stroke="#9b9b9b" stroke-width="2.1"/>
<rect x="789.04" y="1307.94" width="54.38" height="24.86" fill="#F9F9E2" stroke="#9b9b9b" stroke-width="2.1"/>
<rect x="843.42" y="1307.94" width="54.38" height="24.86" fill="#F7FAE6" stroke="#9b9b9b" stroke-width="2.1"/>
<rect x="897.80" y="1307.94" width="54.38" height="24.86" fill="#F3F9EA" stroke="#9b9b9b" stroke-width="2.1"/>
<rect x="82.10" y="1332.80" width="54.38" height="24.86" fill="#DFEFF8" stroke="#9b9b9b" stroke-width="2.1"/>
<rect x="136.48" y="1332.80" width="54.38" height="24.86" fill="#FEEEAE" stroke="#9b9b9b" stroke-width="2.1"/>
<rect x="190.86" y="1332.80" width="54.38" height="24.86" fill="#FEEEAE" stroke="#9b9b9b" stroke-width="2.1"/>
<rect x="245.24" y="1332.80" width="54.38" height="24.86" fill="#FEEEAE" stroke="#9b9b9b" stroke-width="2.1"/>
<rect x="299.62" y="1332.80" width="54.38" height="24.86" fill="#FDBA77" stroke="#9b9b9b" stroke-width="2.1"/>
<rect x="354.00" y="1332.80" width="54.38" height="24.86" fill="#F8824A" stroke="#9b9b9b" stroke-width="2.1"/>
<rect x="408.38" y="1332.80" width="54.38" height="24.86" fill="#F8824A" stroke="#9b9b9b" stroke-width="2.1"/>
<rect x="462.76" y="1332.80" width="54.38" height="24.86" fill="#FA8B52" stroke="#9b9b9b" stroke-width="2.1"/>
<rect x="517.14" y="1332.80" width="54.38" height="24.86" fill="#DAEAF5" stroke="#9b9b9b" stroke-width="2.1"/>
<rect x="571.52" y="1332.80" width="54.38" height="24.86" fill="#92B6D8" stroke="#9b9b9b" stroke-width="2.1"/>
<rect x="625.90" y="1332.80" width="54.38" height="24.86" fill="#EBF5FA" stroke="#9b9b9b" stroke-width="2.1"/>
<rect x="680.28" y="1332.80" width="54.38" height="24.86" fill="#A0C2DE" stroke="#9b9b9b" stroke-width="2.1"/>
<rect x="734.66" y="1332.80" width="54.38" height="24.86" fill="#FEF0B4" stroke="#9b9b9b" stroke-width="2.1"/>
<rect x="789.04" y="1332.80" width="54.38" height="24.86" fill="#FEF0B4" stroke="#9b9b9b" stroke-width="2.1"/>
<rect x="843.42" y="1332.80" width="54.38" height="24.86" fill="#FDCC86" stroke="#9b9b9b" stroke-width="2.1"/>
<rect x="897.80" y="1332.80" width="54.38" height="24.86" fill="#FDD48E" stroke="#9b9b9b" stroke-width="2.1"/>
</g>
<text x="959.5" y="856.1" font-size="19.35" font-style="italic" fill="#000">HES5</text>
<text x="959.5" y="881.0" font-size="19.35" font-style="italic" fill="#000">CCND1</text>
<text x="959.5" y="905.9" font-size="19.35" font-style="italic" fill="#000">HEY1</text>
<text x="959.5" y="930.7" font-size="19.35" font-style="italic" fill="#000">NOTCH2</text>
<text x="959.5" y="955.6" font-size="19.35" font-style="italic" fill="#000">MVP</text>
<text x="959.5" y="980.4" font-size="19.35" font-style="italic" fill="#000">HES1</text>
<text x="959.5" y="1005.3" font-size="19.35" font-style="italic" fill="#000">CDK6</text>
<text x="959.5" y="1030.1" font-size="19.35" font-style="italic" fill="#000">HES4</text>
<text x="959.5" y="1055.0" font-size="19.35" font-style="italic" fill="#000">HEYL</text>
<text x="959.5" y="1079.9" font-size="19.35" font-style="italic" fill="#000">OLFM4</text>
<text x="959.5" y="1104.7" font-size="19.35" font-style="italic" fill="#000">KIT</text>
<text x="959.5" y="1129.6" font-size="19.35" font-style="italic" fill="#000">CDKN1B</text>
<text x="959.5" y="1154.4" font-size="19.35" font-style="italic" fill="#000">NOTCH4</text>
<text x="959.5" y="1179.3" font-size="19.35" font-style="italic" fill="#000">NRARP</text>
<text x="959.5" y="1204.2" font-size="19.35" font-style="italic" fill="#000">HES2</text>
<text x="959.5" y="1229.0" font-size="19.35" font-style="italic" fill="#000">HES6</text>
<text x="959.5" y="1253.9" font-size="19.35" font-style="italic" fill="#000">NOTCH1</text>
<text x="959.5" y="1278.8" font-size="19.35" font-style="italic" fill="#000">NOTCH3</text>
<text x="959.5" y="1303.6" font-size="19.35" font-style="italic" fill="#000">HEY2</text>
<text x="959.5" y="1328.5" font-size="19.35" font-style="italic" fill="#000">MYC</text>
<text x="959.5" y="1353.3" font-size="19.35" font-style="italic" fill="#000">CDKN2D</text>
<path d="M57.5 848.0L82.1 848.0 M57.5 872.9L82.1 872.9 M57.5 848.0L57.5 872.9 M64.2 922.6L82.1 922.6 M64.2 947.5L82.1 947.5 M64.2 922.6L64.2 947.5 M50.6 897.8L82.1 897.8 M50.6 935.0L64.2 935.0 M50.6 897.8L50.6 935.0 M34.9 860.5L57.5 860.5 M34.9 916.4L50.6 916.4 M34.9 860.5L34.9 916.4 M66.0 972.3L82.1 972.3 M66.0 997.2L82.1 997.2 M66.0 972.3L66.0 997.2 M71.1 1096.6L82.1 1096.6 M71.1 1121.5L82.1 1121.5 M71.1 1096.6L71.1 1121.5 M62.1 1071.8L82.1 1071.8 M62.1 1109.1L71.1 1109.1 M62.1 1071.8L62.1 1109.1 M55.3 1046.9L82.1 1046.9 M55.3 1090.4L62.1 1090.4 M55.3 1046.9L55.3 1090.4 M53.8 1022.0L82.1 1022.0 M53.8 1068.7L55.3 1068.7 M53.8 1022.0L53.8 1068.7 M48.7 984.8L66.0 984.8 M48.7 1045.4L53.8 1045.4 M48.7 984.8L48.7 1045.4 M77.7 1196.1L82.1 1196.1 M77.7 1220.9L82.1 1220.9 M77.7 1196.1L77.7 1220.9 M67.3 1171.2L82.1 1171.2 M67.3 1208.5L77.7 1208.5 M67.3 1171.2L67.3 1208.5 M71.7 1270.7L82.1 1270.7 M71.7 1295.5L82.1 1295.5 M71.7 1270.7L71.7 1295.5 M61.1 1245.8L82.1 1245.8 M61.1 1283.1L71.7 1283.1 M61.1 1245.8L61.1 1283.1 M59.7 1189.9L67.3 1189.9 M59.7 1264.4L61.1 1264.4 M59.7 1189.9L59.7 1264.4 M52.4 1320.4L82.1 1320.4 M52.4 1345.2L82.1 1345.2 M52.4 1320.4L52.4 1345.2 M41.2 1227.1L59.7 1227.1 M41.2 1332.8L52.4 1332.8 M41.2 1227.1L41.2 1332.8 M37.8 1146.3L82.1 1146.3 M37.8 1280.0L41.2 1280.0 M37.8 1146.3L37.8 1280.0 M19.1 1015.1L48.7 1015.1 M19.1 1213.2L37.8 1213.2 M19.1 1015.1L19.1 1213.2 M18.3 888.4L34.9 888.4 M18.3 1114.1L19.1 1114.1 M18.3 888.4L18.3 1114.1" stroke="#000" stroke-width="1.85" fill="none" stroke-linecap="square"/>
<text x="190.9" y="819.8" font-size="19.4" font-weight="bold" fill="#f7858a" text-anchor="middle">Organoid</text>
<line x1="86.4" y1="826.4" x2="295.6" y2="826.4" stroke="#f7858a" stroke-width="2"/>
<text x="109.3" y="1376.7" font-size="18.5" fill="#000" text-anchor="middle">0</text>
<text x="163.7" y="1376.7" font-size="18.5" fill="#000" text-anchor="middle">10</text>
<text x="218.1" y="1376.7" font-size="18.5" fill="#000" text-anchor="middle">25</text>
<text x="272.4" y="1376.7" font-size="18.5" fill="#000" text-anchor="middle">100</text>
<path d="M95.1 1404.6L295.0 1404.6L295.0 1383.4Z" fill="none" stroke="#000" stroke-width="2" stroke-linejoin="miter"/>
<text x="195.4" y="1425.7" font-size="19.3" fill="#000" text-anchor="middle">AL101 (nM)</text>
<text x="408.4" y="819.8" font-size="19.4" font-weight="bold" fill="#4b4fae" text-anchor="middle">HACC2A</text>
<line x1="303.9" y1="826.4" x2="513.1" y2="826.4" stroke="#4b4fae" stroke-width="2"/>
<text x="326.8" y="1376.7" font-size="18.5" fill="#000" text-anchor="middle">0</text>
<text x="381.2" y="1376.7" font-size="18.5" fill="#000" text-anchor="middle">10</text>
<text x="435.6" y="1376.7" font-size="18.5" fill="#000" text-anchor="middle">25</text>
<text x="490.0" y="1376.7" font-size="18.5" fill="#000" text-anchor="middle">100</text>
<path d="M312.6 1404.6L512.5 1404.6L512.5 1383.4Z" fill="none" stroke="#000" stroke-width="2" stroke-linejoin="miter"/>
<text x="412.9" y="1425.7" font-size="19.3" fill="#000" text-anchor="middle">AL101 (nM)</text>
<text x="625.9" y="819.8" font-size="19.4" font-weight="bold" fill="#4b4fae" text-anchor="middle">UFH2</text>
<line x1="521.4" y1="826.4" x2="730.7" y2="826.4" stroke="#4b4fae" stroke-width="2"/>
<text x="544.3" y="1376.7" font-size="18.5" fill="#000" text-anchor="middle">0</text>
<text x="598.7" y="1376.7" font-size="18.5" fill="#000" text-anchor="middle">10</text>
<text x="653.1" y="1376.7" font-size="18.5" fill="#000" text-anchor="middle">25</text>
<text x="707.5" y="1376.7" font-size="18.5" fill="#000" text-anchor="middle">100</text>
<path d="M530.1 1404.6L730.0 1404.6L730.0 1383.4Z" fill="none" stroke="#000" stroke-width="2" stroke-linejoin="miter"/>
<text x="630.4" y="1425.7" font-size="19.3" fill="#000" text-anchor="middle">AL101 (nM)</text>
<text x="843.4" y="819.8" font-size="19.4" font-weight="bold" fill="#4b4fae" text-anchor="middle">ACC52</text>
<line x1="739.0" y1="826.4" x2="948.2" y2="826.4" stroke="#4b4fae" stroke-width="2"/>
<text x="761.9" y="1376.7" font-size="18.5" fill="#000" text-anchor="middle">0</text>
<text x="816.2" y="1376.7" font-size="18.5" fill="#000" text-anchor="middle">10</text>
<text x="870.6" y="1376.7" font-size="18.5" fill="#000" text-anchor="middle">25</text>
<text x="925.0" y="1376.7" font-size="18.5" fill="#000" text-anchor="middle">100</text>
<path d="M747.7 1404.6L947.6 1404.6L947.6 1383.4Z" fill="none" stroke="#000" stroke-width="2" stroke-linejoin="miter"/>
<text x="848.0" y="1425.7" font-size="19.3" fill="#000" text-anchor="middle">AL101 (nM)</text>
<defs><linearGradient id="g835" x1="0" y1="0" x2="0" y2="1"><stop offset="0" stop-color="#D73027"/><stop offset="0.2" stop-color="#F67A4A"/><stop offset="0.3" stop-color="#FDAA6A"/><stop offset="0.4" stop-color="#FED98C"/><stop offset="0.5" stop-color="#FEF0AA"/><stop offset="0.6" stop-color="#FFFBD2"/><stop offset="0.7" stop-color="#F2FAF2"/><stop offset="0.78" stop-color="#E3F2F8"/><stop offset="0.88" stop-color="#A8C8E2"/><stop offset="1" stop-color="#4A75B5"/></linearGradient></defs>
<rect x="1061.9" y="835.3" width="11.3" height="161.0" fill="url(#g835)"/>
<text x="1075.0" y="841.7" font-size="15.5" fill="#000">2</text>
<text x="1075.0" y="881.2" font-size="15.5" fill="#000">1</text>
<text x="1075.0" y="918.0" font-size="15.5" fill="#000">0</text>
<text x="1075.0" y="956.6" font-size="15.5" fill="#000">−1</text>
<text x="1075.0" y="1000.6" font-size="15.5" fill="#000">−2</text>
<rect x="1440.4" y="92.7" width="390.1" height="521.0" fill="#f2f2f2"/>
<line x1="1543.2" y1="92.7" x2="1543.2" y2="613.7" stroke="#fff" stroke-width="0.8"/>
<line x1="1658.4" y1="92.7" x2="1658.4" y2="613.7" stroke="#fff" stroke-width="0.8"/>
<line x1="1773.8" y1="92.7" x2="1773.8" y2="613.7" stroke="#fff" stroke-width="0.8"/>
<line x1="1440.4" y1="600.5" x2="1830.5" y2="600.5" stroke="#fff" stroke-width="0.8"/>
<line x1="1440.4" y1="492.2" x2="1830.5" y2="492.2" stroke="#fff" stroke-width="0.8"/>
<line x1="1440.4" y1="384.0" x2="1830.5" y2="384.0" stroke="#fff" stroke-width="0.8"/>
<line x1="1440.4" y1="275.6" x2="1830.5" y2="275.6" stroke="#fff" stroke-width="0.8"/>
<line x1="1440.4" y1="167.4" x2="1830.5" y2="167.4" stroke="#fff" stroke-width="0.8"/>
<line x1="1485.5" y1="92.7" x2="1485.5" y2="613.7" stroke="#fff" stroke-width="1.4"/>
<line x1="1600.8" y1="92.7" x2="1600.8" y2="613.7" stroke="#fff" stroke-width="1.4"/>
<line x1="1716.1" y1="92.7" x2="1716.1" y2="613.7" stroke="#fff" stroke-width="1.4"/>
<line x1="1440.4" y1="546.4" x2="1830.5" y2="546.4" stroke="#fff" stroke-width="1.4"/>
<line x1="1440.4" y1="438.1" x2="1830.5" y2="438.1" stroke="#fff" stroke-width="1.4"/>
<line x1="1440.4" y1="329.8" x2="1830.5" y2="329.8" stroke="#fff" stroke-width="1.4"/>
<line x1="1440.4" y1="221.5" x2="1830.5" y2="221.5" stroke="#fff" stroke-width="1.4"/>
<line x1="1440.4" y1="113.2" x2="1830.5" y2="113.2" stroke="#fff" stroke-width="1.4"/>
<line x1="1436" y1="546.4" x2="1440.4" y2="546.4" stroke="#1a1a1a" stroke-width="3.3"/>
<text x="1432" y="552.7" font-size="22.4" fill="#4d4d4d" text-anchor="end">0.0</text>
<line x1="1436" y1="438.1" x2="1440.4" y2="438.1" stroke="#1a1a1a" stroke-width="3.3"/>
<text x="1432" y="444.4" font-size="22.4" fill="#4d4d4d" text-anchor="end">0.1</text>
<line x1="1436" y1="329.8" x2="1440.4" y2="329.8" stroke="#1a1a1a" stroke-width="3.3"/>
<text x="1432" y="336.1" font-size="22.4" fill="#4d4d4d" text-anchor="end">0.2</text>
<line x1="1436" y1="221.5" x2="1440.4" y2="221.5" stroke="#1a1a1a" stroke-width="3.3"/>
<text x="1432" y="227.8" font-size="22.4" fill="#4d4d4d" text-anchor="end">0.3</text>
<line x1="1436" y1="113.2" x2="1440.4" y2="113.2" stroke="#1a1a1a" stroke-width="3.3"/>
<text x="1432" y="119.5" font-size="22.4" fill="#4d4d4d" text-anchor="end">0.4</text>
<line x1="1485.5" y1="613.7" x2="1485.5" y2="617.8" stroke="#1a1a1a" stroke-width="3.2"/>
<text x="1485.5" y="647.6" font-size="22.4" fill="#4d4d4d" text-anchor="middle">0.50</text>
<line x1="1600.8" y1="613.7" x2="1600.8" y2="617.8" stroke="#1a1a1a" stroke-width="3.2"/>
<text x="1600.8" y="647.6" font-size="22.4" fill="#4d4d4d" text-anchor="middle">0.55</text>
<line x1="1716.1" y1="613.7" x2="1716.1" y2="617.8" stroke="#1a1a1a" stroke-width="3.2"/>
<text x="1716.1" y="647.6" font-size="22.4" fill="#4d4d4d" text-anchor="middle">0.60</text>
<line x1="1831.4" y1="613.7" x2="1831.4" y2="617.8" stroke="#1a1a1a" stroke-width="3.2"/>
<text x="1831.4" y="647.6" font-size="22.4" fill="#4d4d4d" text-anchor="middle">0.65</text>
<text x="1638" y="673" font-size="22.3" font-weight="bold" fill="#000" text-anchor="middle">NOTCH Act (kTSP)</text>
<text transform="translate(1382.8,339.6) rotate(-90)" x="0" y="0" font-size="22.2" font-weight="bold" fill="#000" text-anchor="middle">NOTCH Act (ssGSEA)</text>
<circle cx="1677.8" cy="116.6" r="9.8" fill="#fe868c" stroke="#1a1a1a" stroke-width="1.0"/>
<path d="M1485.5 221.2L1495.5 240.7L1475.5 240.7Z" fill="#fe868c" stroke="#1a1a1a" stroke-width="1.0"/>
<rect x="1448.2" y="258.1" width="20.0" height="20.0" fill="#fe868c" stroke="#1a1a1a" stroke-width="1.0"/>
<polygon points="1495.3,297.0 1485.5,302.3 1475.7,297.0 1475.7,286.4 1485.5,281.1 1495.3,286.4" fill="#fe868c" stroke="#1a1a1a" stroke-width="1.0"/>
<circle cx="1815.0" cy="407.0" r="9.8" fill="#bad5ef" stroke="#1a1a1a" stroke-width="1.0"/>
<polygon points="1742.5,438.3 1732.7,443.6 1722.9,438.3 1722.9,427.7 1732.7,422.4 1742.5,427.7" fill="#bad5ef" stroke="#1a1a1a" stroke-width="1.0"/>
<path d="M1732.7 424.7L1742.7 444.2L1722.7 444.2Z" fill="#bad5ef" stroke="#1a1a1a" stroke-width="1.0"/>
<rect x="1750.1" y="434.8" width="20.0" height="20.0" fill="#bad5ef" stroke="#1a1a1a" stroke-width="1.0"/>
<circle cx="1815.0" cy="546.4" r="9.8" fill="#6fc5e3" stroke="#1a1a1a" stroke-width="1.0"/>
<path d="M1650.0 555.7L1660.0 575.2L1640.0 575.2Z" fill="#6fc5e3" stroke="#1a1a1a" stroke-width="1.0"/>
<rect x="1667.8" y="561.2" width="20.0" height="20.0" fill="#6fc5e3" stroke="#1a1a1a" stroke-width="1.0"/>
<polygon points="1659.8,595.5 1650.0,600.8 1640.2,595.5 1640.2,584.9 1650.0,579.6 1659.8,584.9" fill="#6fc5e3" stroke="#1a1a1a" stroke-width="1.0"/>
<circle cx="1677.8" cy="536.0" r="9.8" fill="#444ba8" stroke="#1a1a1a" stroke-width="1.0"/>
<path d="M1567.8 547.7L1577.8 567.2L1557.8 567.2Z" fill="#444ba8" stroke="#1a1a1a" stroke-width="1.0"/>
<rect x="1585.2" y="546.5" width="20.0" height="20.0" fill="#444ba8" stroke="#1a1a1a" stroke-width="1.0"/>
<polygon points="1550.1,582.1 1540.3,587.4 1530.5,582.1 1530.5,571.5 1540.3,566.2 1550.1,571.5" fill="#444ba8" stroke="#1a1a1a" stroke-width="1.0"/>
<text x="1873.5" y="143.8" font-size="22.2" fill="#000">Sample</text>
<line x1="1874.4" y1="147" x2="1948.5" y2="147" stroke="#000" stroke-width="1.4"/>
<line x1="1842.7" y1="169.9" x2="1869.8" y2="169.9" stroke="#bad5ef" stroke-width="4.6"/>
<text x="1876.5" y="173.8" font-size="19.6" fill="#000">HACC2A</text>
<line x1="1842.7" y1="198.4" x2="1869.8" y2="198.4" stroke="#6fc5e3" stroke-width="4.6"/>
<text x="1876.5" y="201.9" font-size="19.6" fill="#000">UFH2</text>
<line x1="1842.7" y1="226.5" x2="1869.8" y2="226.5" stroke="#444ba8" stroke-width="4.6"/>
<text x="1876.5" y="233.2" font-size="19.6" fill="#000">ACC52</text>
<line x1="1842.7" y1="255.0" x2="1869.8" y2="255.0" stroke="#fe868c" stroke-width="4.6"/>
<text x="1876.5" y="261.2" font-size="19.6" fill="#000">Organoid</text>
<text x="1873.5" y="306.4" font-size="22.2" fill="#000">Treatment</text>
<line x1="1874.4" y1="308.8" x2="1975" y2="308.8" stroke="#000" stroke-width="1.4"/>
<circle cx="1857.7" cy="333.6" r="7.2" fill="#000"/>
<path d="M1857.8 356L1867.6 372.7L1848.1 372.7Z" fill="#000"/>
<rect x="1850.5" y="393.2" width="14.7" height="14.9" fill="#000"/>
<polygon points="1865.1,439.0 1857.7,443.8 1850.3,439.0 1850.3,429.2 1857.7,424.4 1865.1,429.2" fill="#000"/>
<text x="1876.5" y="338.6" font-size="19.6" fill="#000">DMSO</text>
<text x="1876.5" y="372.1" font-size="19.6" fill="#000">10nM</text>
<text x="1876.5" y="408.9" font-size="19.6" fill="#000">25nM</text>
<text x="1876.5" y="442.2" font-size="19.6" fill="#000">100nM</text>
</svg>
</body></html>
